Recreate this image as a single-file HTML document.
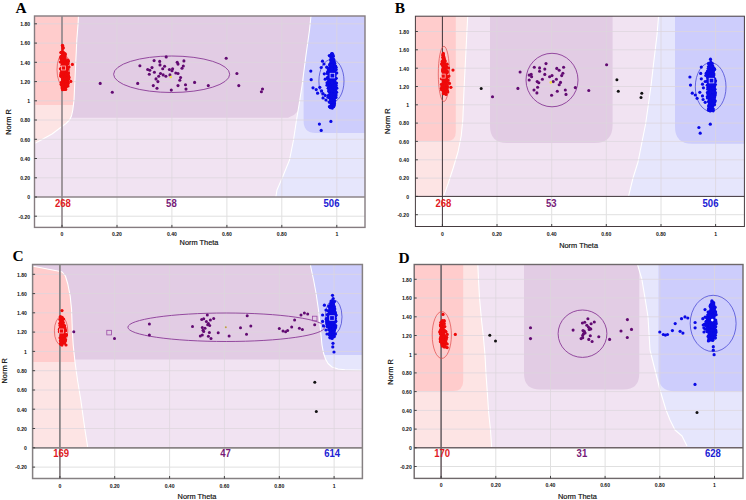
<!DOCTYPE html>
<html><head><meta charset="utf-8"><style>
html,body{margin:0;padding:0;background:#fff;width:746px;height:500px;overflow:hidden}
svg{display:block}
.tl{font-family:"Liberation Sans",sans-serif;font-size:5.1px;font-weight:bold;fill:#111}
.at{font-family:"Liberation Sans",sans-serif;font-size:7.4px;fill:#111;stroke:#111;stroke-width:0.18px}
.let{font-family:"Liberation Serif",serif;font-size:15.4px;font-weight:bold;fill:#000}
.cnt{font-family:"Liberation Sans",sans-serif;font-size:10.4px;font-weight:bold}
</style></head><body>
<svg width="746" height="500" viewBox="0 0 746 500">
<clipPath id="clipA"><rect x="34.5" y="16" width="330.5" height="181"/></clipPath>
<g clip-path="url(#clipA)">
<rect x="29.5" y="11" width="340.5" height="191" fill="#f1e3f2"/>
<polygon points="29.5,11.0 313.0,11.0 311.0,30.0 307.5,55.0 303.5,86.0 302.0,98.0 300.5,105.0 298.0,111.0 294.0,115.0 288.0,117.7 29.5,117.7" fill="#e2cce4" />
<clipPath id="pkA"><polygon points="29.5,11.0 78.6,11.0 78.2,22.0 76.8,40.0 75.4,70.0 74.0,100.0 72.8,110.0 71.5,116.0 69.5,120.0 66.0,123.5 60.0,128.0 52.0,134.0 43.0,139.0 36.0,142.7 29.5,144.0"/></clipPath>
<polygon points="29.5,11.0 78.6,11.0 78.2,22.0 76.8,40.0 75.4,70.0 74.0,100.0 72.8,110.0 71.5,116.0 69.5,120.0 66.0,123.5 60.0,128.0 52.0,134.0 43.0,139.0 36.0,142.7 29.5,144.0" fill="#fde4e4" />
<g clip-path="url(#pkA)"><path d="M29.5,11 L90,11 L90,105 Q90,105 90,105 L29.5,105 Q29.5,105 29.5,105 Z" fill="#ffcccc" /></g>
<clipPath id="blA"><polygon points="311.5,11.0 370.0,11.0 370.0,202.0 275.0,202.0 277.0,190.0 283.0,176.0 289.5,160.0 293.5,140.0 296.5,120.0 299.0,105.0 302.0,86.0 306.0,55.0 309.5,30.0"/></clipPath>
<polygon points="311.5,11.0 370.0,11.0 370.0,202.0 275.0,202.0 277.0,190.0 283.0,176.0 289.5,160.0 293.5,140.0 296.5,120.0 299.0,105.0 302.0,86.0 306.0,55.0 309.5,30.0" fill="#e6e6fc" />
<g clip-path="url(#blA)"><path d="M303.6,11 L370,11 L370,133 Q370,133 370,133 L315.6,133 Q303.6,133 303.6,121 Z" fill="#cdcdfc" /></g>
<polyline points="78.6,11.0 78.2,22.0 76.8,40.0 75.4,70.0 74.0,100.0 72.8,110.0 71.5,116.0 69.5,120.0 66.0,123.5 60.0,128.0 52.0,134.0 43.0,139.0 36.0,142.7 29.5,144.0" fill="none" stroke="#fff" stroke-width="1.1" stroke-linejoin="round" />
<polyline points="275.0,202.0 277.0,190.0 283.0,176.0 289.5,160.0 293.5,140.0 296.5,120.0 299.0,105.0 302.0,86.0 306.0,55.0 309.5,30.0 311.5,11.0" fill="none" stroke="#fff" stroke-width="1.1" stroke-linejoin="round" />
</g>
<path d="M34.5,177.8H365 M34.5,158.5H365 M34.5,139.3H365 M34.5,120.0H365 M34.5,100.8H365 M34.5,81.6H365 M34.5,62.3H365 M34.5,43.1H365 M34.5,23.8H365 M117.0,16V197 M171.9,16V197 M226.9,16V197 M281.8,16V197 M336.8,16V197" stroke="#dcd6dc" stroke-width="1" fill="none" opacity="0.75"/>
<path d="M34.5,216.2H365 M117.0,197V227.4 M171.9,197V227.4 M226.9,197V227.4 M281.8,197V227.4 M336.8,197V227.4" stroke="#e0e0e0" stroke-width="1" fill="none"/>
<rect x="34.5" y="16" width="330.5" height="211.4" fill="none" stroke="#857c80" stroke-width="1.4"/>
<path d="M34.5,197H365" stroke="#8c8488" stroke-width="1.6"/>
<path d="M62,16V227.4" stroke="#8c8488" stroke-width="1.6"/>
<path d="M34.5,216.2H37.0 M34.5,197.0H37.0 M34.5,177.8H37.0 M34.5,158.5H37.0 M34.5,139.3H37.0 M34.5,120.0H37.0 M34.5,100.8H37.0 M34.5,81.6H37.0 M34.5,62.3H37.0 M34.5,43.1H37.0 M34.5,23.8H37.0 M62.0,224.9V227.4 M117.0,224.9V227.4 M171.9,224.9V227.4 M226.9,224.9V227.4 M281.8,224.9V227.4 M336.8,224.9V227.4" stroke="#333" stroke-width="0.9"/>
<text x="30.1" y="218.5" class="tl" text-anchor="end">-0.20</text>
<text x="30.1" y="199.3" class="tl" text-anchor="end">0</text>
<text x="30.1" y="180.1" class="tl" text-anchor="end">0.20</text>
<text x="30.1" y="160.8" class="tl" text-anchor="end">0.40</text>
<text x="30.1" y="141.6" class="tl" text-anchor="end">0.60</text>
<text x="30.1" y="122.3" class="tl" text-anchor="end">0.80</text>
<text x="30.1" y="103.1" class="tl" text-anchor="end">1</text>
<text x="30.1" y="83.9" class="tl" text-anchor="end">1.20</text>
<text x="30.1" y="64.6" class="tl" text-anchor="end">1.40</text>
<text x="30.1" y="45.4" class="tl" text-anchor="end">1.60</text>
<text x="30.1" y="26.1" class="tl" text-anchor="end">1.80</text>
<text x="62.0" y="235.7" class="tl" text-anchor="middle">0</text>
<text x="117.0" y="235.7" class="tl" text-anchor="middle">0.20</text>
<text x="171.9" y="235.7" class="tl" text-anchor="middle">0.40</text>
<text x="226.9" y="235.7" class="tl" text-anchor="middle">0.60</text>
<text x="281.8" y="235.7" class="tl" text-anchor="middle">0.80</text>
<text x="336.8" y="235.7" class="tl" text-anchor="middle">1</text>
<text x="8" y="122" class="at" text-anchor="middle" transform="rotate(-90 8 122)" dy="2.6">Norm R</text>
<text x="199" y="244.8" class="at" text-anchor="middle">Norm Theta</text>
<text x="15.4" y="12.6" class="let">A</text>
<ellipse cx="171.64999999999998" cy="74.25" rx="58.05" ry="18.25" fill="none" stroke="#8a3a96" stroke-width="0.9"/>
<ellipse cx="63.3" cy="69.69999999999999" rx="6.299999999999997" ry="15.899999999999999" fill="none" stroke="#e04848" stroke-width="0.7"/>
<ellipse cx="331.45" cy="81.0" rx="12.550000000000011" ry="21.599999999999998" fill="none" stroke="#3a3ad0" stroke-width="0.7"/>
<circle cx="100.2" cy="83.4" r="1.55" fill="#620a72"/>
<circle cx="112.3" cy="92.3" r="1.55" fill="#620a72"/>
<circle cx="139.9" cy="65.7" r="1.55" fill="#620a72"/>
<circle cx="137.7" cy="83.4" r="1.55" fill="#620a72"/>
<circle cx="154.1" cy="60.6" r="1.55" fill="#620a72"/>
<circle cx="159.7" cy="61.4" r="1.55" fill="#620a72"/>
<circle cx="160.0" cy="64.9" r="1.55" fill="#620a72"/>
<circle cx="166.2" cy="56.9" r="1.55" fill="#620a72"/>
<circle cx="177.2" cy="62.3" r="1.55" fill="#620a72"/>
<circle cx="178.0" cy="64.1" r="1.55" fill="#620a72"/>
<circle cx="183.9" cy="60.9" r="1.55" fill="#620a72"/>
<circle cx="182.0" cy="68.2" r="1.55" fill="#620a72"/>
<circle cx="183.3" cy="66.0" r="1.55" fill="#620a72"/>
<circle cx="147.7" cy="69.5" r="1.55" fill="#620a72"/>
<circle cx="149.8" cy="70.3" r="1.55" fill="#620a72"/>
<circle cx="152.0" cy="67.6" r="1.55" fill="#620a72"/>
<circle cx="149.3" cy="74.3" r="1.55" fill="#620a72"/>
<circle cx="154.4" cy="72.2" r="1.55" fill="#620a72"/>
<circle cx="162.7" cy="68.7" r="1.55" fill="#620a72"/>
<circle cx="164.6" cy="66.3" r="1.55" fill="#620a72"/>
<circle cx="169.4" cy="69.5" r="1.55" fill="#620a72"/>
<circle cx="172.6" cy="68.7" r="1.55" fill="#620a72"/>
<circle cx="172.0" cy="70.8" r="1.55" fill="#620a72"/>
<circle cx="175.8" cy="73.0" r="1.55" fill="#620a72"/>
<circle cx="178.0" cy="73.5" r="1.55" fill="#620a72"/>
<circle cx="160.5" cy="73.5" r="1.55" fill="#620a72"/>
<circle cx="158.7" cy="76.2" r="1.55" fill="#620a72"/>
<circle cx="163.2" cy="74.9" r="1.55" fill="#620a72"/>
<circle cx="165.9" cy="76.2" r="1.55" fill="#620a72"/>
<circle cx="156.0" cy="78.9" r="1.55" fill="#620a72"/>
<circle cx="157.9" cy="81.6" r="1.55" fill="#620a72"/>
<circle cx="169.9" cy="74.9" r="1.55" fill="#620a72"/>
<circle cx="180.6" cy="77.5" r="1.55" fill="#620a72"/>
<circle cx="179.8" cy="80.2" r="1.55" fill="#620a72"/>
<circle cx="153.3" cy="85.6" r="1.55" fill="#620a72"/>
<circle cx="157.0" cy="88.3" r="1.55" fill="#620a72"/>
<circle cx="171.3" cy="90.1" r="1.55" fill="#620a72"/>
<circle cx="178.0" cy="85.6" r="1.55" fill="#620a72"/>
<circle cx="185.5" cy="84.8" r="1.55" fill="#620a72"/>
<circle cx="186.0" cy="89.1" r="1.55" fill="#620a72"/>
<circle cx="194.6" cy="82.4" r="1.55" fill="#620a72"/>
<circle cx="208.3" cy="85.6" r="1.55" fill="#620a72"/>
<circle cx="226.2" cy="58.2" r="1.55" fill="#620a72"/>
<circle cx="236.9" cy="73.5" r="1.55" fill="#620a72"/>
<circle cx="238.8" cy="85.6" r="1.55" fill="#620a72"/>
<circle cx="262.5" cy="89.0" r="1.55" fill="#620a72"/>
<circle cx="261.4" cy="91.7" r="1.55" fill="#620a72"/>
<circle cx="170.7" cy="77.0" r="1.3" fill="#f0e040"/>
<polygon points="61.6,45.9 63.1,46.4 64.0,51.9 66.3,55.9 67.1,60.8 67.2,66.4 67.0,71.3 68.2,77.2 68.7,81.1 66.9,85.1 65.0,88.1 62.1,88.1 61.2,83.1 60.9,74.2 61.0,65.5 60.8,57.8 61.2,50.9" fill="#ee0a0a"/>
<circle cx="61.4" cy="82.3" r="1.6" fill="#ee0a0a"/>
<circle cx="64.6" cy="64.8" r="1.6" fill="#ee0a0a"/>
<circle cx="65.9" cy="79.7" r="1.6" fill="#ee0a0a"/>
<circle cx="67.6" cy="64.0" r="1.6" fill="#ee0a0a"/>
<circle cx="64.1" cy="76.7" r="1.6" fill="#ee0a0a"/>
<circle cx="62.2" cy="86.6" r="1.6" fill="#ee0a0a"/>
<circle cx="60.4" cy="68.8" r="1.6" fill="#ee0a0a"/>
<circle cx="62.1" cy="63.6" r="1.6" fill="#ee0a0a"/>
<circle cx="64.1" cy="66.8" r="1.6" fill="#ee0a0a"/>
<circle cx="62.3" cy="55.2" r="1.6" fill="#ee0a0a"/>
<circle cx="62.1" cy="65.2" r="1.6" fill="#ee0a0a"/>
<circle cx="62.8" cy="45.9" r="1.6" fill="#ee0a0a"/>
<circle cx="67.6" cy="69.5" r="1.6" fill="#ee0a0a"/>
<circle cx="61.3" cy="59.6" r="1.6" fill="#ee0a0a"/>
<circle cx="66.5" cy="76.3" r="1.6" fill="#ee0a0a"/>
<circle cx="67.5" cy="74.5" r="1.6" fill="#ee0a0a"/>
<circle cx="62.9" cy="70.9" r="1.6" fill="#ee0a0a"/>
<circle cx="68.0" cy="82.2" r="1.6" fill="#ee0a0a"/>
<circle cx="64.6" cy="70.9" r="1.6" fill="#ee0a0a"/>
<circle cx="67.2" cy="63.2" r="1.6" fill="#ee0a0a"/>
<circle cx="61.7" cy="69.1" r="1.6" fill="#ee0a0a"/>
<circle cx="66.4" cy="74.7" r="1.6" fill="#ee0a0a"/>
<circle cx="63.5" cy="64.3" r="1.6" fill="#ee0a0a"/>
<circle cx="64.7" cy="79.3" r="1.6" fill="#ee0a0a"/>
<circle cx="64.8" cy="62.3" r="1.6" fill="#ee0a0a"/>
<circle cx="60.6" cy="75.9" r="1.6" fill="#ee0a0a"/>
<circle cx="63.7" cy="52.5" r="1.6" fill="#ee0a0a"/>
<circle cx="64.6" cy="88.2" r="1.6" fill="#ee0a0a"/>
<circle cx="67.0" cy="68.7" r="1.6" fill="#ee0a0a"/>
<circle cx="64.7" cy="86.9" r="1.6" fill="#ee0a0a"/>
<circle cx="65.3" cy="65.2" r="1.6" fill="#ee0a0a"/>
<circle cx="62.6" cy="69.1" r="1.6" fill="#ee0a0a"/>
<circle cx="67.1" cy="81.1" r="1.6" fill="#ee0a0a"/>
<circle cx="68.0" cy="77.6" r="1.6" fill="#ee0a0a"/>
<circle cx="67.3" cy="67.8" r="1.6" fill="#ee0a0a"/>
<circle cx="65.1" cy="63.7" r="1.6" fill="#ee0a0a"/>
<circle cx="65.2" cy="53.8" r="1.6" fill="#ee0a0a"/>
<circle cx="64.6" cy="66.3" r="1.6" fill="#ee0a0a"/>
<circle cx="63.3" cy="60.2" r="1.6" fill="#ee0a0a"/>
<circle cx="64.9" cy="72.4" r="1.6" fill="#ee0a0a"/>
<circle cx="65.6" cy="65.2" r="1.6" fill="#ee0a0a"/>
<circle cx="61.8" cy="70.7" r="1.6" fill="#ee0a0a"/>
<circle cx="67.8" cy="80.1" r="1.6" fill="#ee0a0a"/>
<circle cx="67.2" cy="80.9" r="1.6" fill="#ee0a0a"/>
<circle cx="62.4" cy="82.0" r="1.6" fill="#ee0a0a"/>
<circle cx="61.2" cy="72.5" r="1.6" fill="#ee0a0a"/>
<circle cx="63.2" cy="48.1" r="1.6" fill="#ee0a0a"/>
<circle cx="61.6" cy="68.2" r="1.6" fill="#ee0a0a"/>
<circle cx="61.7" cy="57.0" r="1.6" fill="#ee0a0a"/>
<circle cx="66.5" cy="65.0" r="1.6" fill="#ee0a0a"/>
<circle cx="63.0" cy="65.8" r="1.6" fill="#ee0a0a"/>
<circle cx="60.4" cy="62.0" r="1.6" fill="#ee0a0a"/>
<circle cx="63.9" cy="53.3" r="1.6" fill="#ee0a0a"/>
<circle cx="61.2" cy="84.6" r="1.6" fill="#ee0a0a"/>
<circle cx="64.7" cy="54.2" r="1.6" fill="#ee0a0a"/>
<circle cx="65.5" cy="80.9" r="1.6" fill="#ee0a0a"/>
<circle cx="61.5" cy="76.6" r="1.6" fill="#ee0a0a"/>
<circle cx="61.6" cy="76.0" r="1.6" fill="#ee0a0a"/>
<circle cx="66.2" cy="69.0" r="1.6" fill="#ee0a0a"/>
<circle cx="62.1" cy="87.9" r="1.6" fill="#ee0a0a"/>
<circle cx="67.2" cy="67.7" r="1.6" fill="#ee0a0a"/>
<circle cx="62.2" cy="73.5" r="1.6" fill="#ee0a0a"/>
<circle cx="63.7" cy="70.3" r="1.6" fill="#ee0a0a"/>
<circle cx="63.0" cy="72.8" r="1.6" fill="#ee0a0a"/>
<circle cx="60.7" cy="58.1" r="1.6" fill="#ee0a0a"/>
<circle cx="62.9" cy="82.8" r="1.6" fill="#ee0a0a"/>
<circle cx="62.9" cy="86.3" r="1.6" fill="#ee0a0a"/>
<circle cx="66.7" cy="63.3" r="1.6" fill="#ee0a0a"/>
<circle cx="62.4" cy="45.4" r="1.6" fill="#ee0a0a"/>
<circle cx="66.4" cy="67.4" r="1.6" fill="#ee0a0a"/>
<circle cx="63.5" cy="60.3" r="1.6" fill="#ee0a0a"/>
<circle cx="62.0" cy="74.7" r="1.6" fill="#ee0a0a"/>
<circle cx="64.0" cy="53.5" r="1.6" fill="#ee0a0a"/>
<circle cx="61.1" cy="74.3" r="1.6" fill="#ee0a0a"/>
<circle cx="62.8" cy="67.0" r="1.6" fill="#ee0a0a"/>
<circle cx="63.1" cy="83.4" r="1.6" fill="#ee0a0a"/>
<circle cx="62.0" cy="59.4" r="1.6" fill="#ee0a0a"/>
<circle cx="63.2" cy="54.4" r="1.6" fill="#ee0a0a"/>
<circle cx="66.1" cy="81.9" r="1.6" fill="#ee0a0a"/>
<circle cx="68.0" cy="75.2" r="1.6" fill="#ee0a0a"/>
<circle cx="64.5" cy="88.4" r="1.6" fill="#ee0a0a"/>
<circle cx="62.3" cy="76.9" r="1.6" fill="#ee0a0a"/>
<circle cx="60.9" cy="52.5" r="1.6" fill="#ee0a0a"/>
<circle cx="66.9" cy="71.4" r="1.6" fill="#ee0a0a"/>
<circle cx="63.2" cy="57.8" r="1.6" fill="#ee0a0a"/>
<circle cx="61.4" cy="69.3" r="1.6" fill="#ee0a0a"/>
<circle cx="67.1" cy="81.5" r="1.6" fill="#ee0a0a"/>
<circle cx="63.2" cy="72.1" r="1.6" fill="#ee0a0a"/>
<circle cx="67.1" cy="61.6" r="1.6" fill="#ee0a0a"/>
<circle cx="65.2" cy="54.8" r="1.6" fill="#ee0a0a"/>
<circle cx="60.9" cy="56.7" r="1.6" fill="#ee0a0a"/>
<circle cx="62.6" cy="79.6" r="1.6" fill="#ee0a0a"/>
<circle cx="61.2" cy="83.9" r="1.6" fill="#ee0a0a"/>
<circle cx="61.2" cy="52.4" r="1.6" fill="#ee0a0a"/>
<circle cx="62.3" cy="77.7" r="1.6" fill="#ee0a0a"/>
<circle cx="63.5" cy="87.7" r="1.6" fill="#ee0a0a"/>
<circle cx="62.4" cy="66.0" r="1.6" fill="#ee0a0a"/>
<circle cx="61.1" cy="73.7" r="1.6" fill="#ee0a0a"/>
<circle cx="65.4" cy="64.8" r="1.6" fill="#ee0a0a"/>
<circle cx="63.0" cy="47.8" r="1.6" fill="#ee0a0a"/>
<circle cx="62.1" cy="72.2" r="1.6" fill="#ee0a0a"/>
<circle cx="66.3" cy="74.1" r="1.6" fill="#ee0a0a"/>
<circle cx="62.5" cy="68.8" r="1.6" fill="#ee0a0a"/>
<circle cx="68.0" cy="86.0" r="1.6" fill="#ee0a0a"/>
<circle cx="68.2" cy="83.4" r="1.6" fill="#ee0a0a"/>
<circle cx="66.3" cy="86.8" r="1.6" fill="#ee0a0a"/>
<circle cx="67.6" cy="83.8" r="1.6" fill="#ee0a0a"/>
<circle cx="63.0" cy="88.1" r="1.6" fill="#ee0a0a"/>
<circle cx="63.0" cy="57.1" r="1.6" fill="#ee0a0a"/>
<circle cx="65.9" cy="86.9" r="1.6" fill="#ee0a0a"/>
<circle cx="64.8" cy="88.9" r="1.6" fill="#ee0a0a"/>
<circle cx="68.0" cy="63.1" r="1.6" fill="#ee0a0a"/>
<circle cx="62.4" cy="85.1" r="1.6" fill="#ee0a0a"/>
<circle cx="65.7" cy="89.4" r="1.6" fill="#ee0a0a"/>
<circle cx="68.3" cy="75.6" r="1.6" fill="#ee0a0a"/>
<circle cx="62.5" cy="89.7" r="1.6" fill="#ee0a0a"/>
<circle cx="67.6" cy="78.6" r="1.6" fill="#ee0a0a"/>
<circle cx="68.4" cy="61.2" r="1.6" fill="#ee0a0a"/>
<circle cx="68.8" cy="79.1" r="1.6" fill="#ee0a0a"/>
<circle cx="72.4" cy="64.4" r="1.6" fill="#ee0a0a"/>
<circle cx="64.2" cy="89.5" r="1.6" fill="#ee0a0a"/>
<circle cx="66.0" cy="84.4" r="1.6" fill="#ee0a0a"/>
<circle cx="70.8" cy="81.4" r="1.6" fill="#ee0a0a"/>
<circle cx="69.0" cy="77.2" r="1.6" fill="#ee0a0a"/>
<circle cx="68.0" cy="60.0" r="1.6" fill="#ee0a0a"/>
<circle cx="69.0" cy="67.0" r="1.6" fill="#ee0a0a"/>
<circle cx="68.5" cy="73.0" r="1.6" fill="#ee0a0a"/>
<polygon points="331.0,52.9 332.5,53.4 333.9,58.9 335.8,64.9 336.3,75.6 336.6,89.2 335.8,99.1 333.9,106.1 332.0,108.1 330.5,106.1 329.1,99.1 328.3,89.2 328.4,78.2 328.3,68.8 329.6,60.9 330.6,55.9" fill="#0a0ae6"/>
<circle cx="335.4" cy="94.0" r="1.6" fill="#0a0ae6"/>
<circle cx="333.9" cy="69.6" r="1.6" fill="#0a0ae6"/>
<circle cx="333.3" cy="86.6" r="1.6" fill="#0a0ae6"/>
<circle cx="333.0" cy="61.0" r="1.6" fill="#0a0ae6"/>
<circle cx="331.6" cy="74.4" r="1.6" fill="#0a0ae6"/>
<circle cx="336.5" cy="83.0" r="1.6" fill="#0a0ae6"/>
<circle cx="331.7" cy="67.3" r="1.6" fill="#0a0ae6"/>
<circle cx="331.9" cy="70.2" r="1.6" fill="#0a0ae6"/>
<circle cx="331.1" cy="102.8" r="1.6" fill="#0a0ae6"/>
<circle cx="332.5" cy="83.9" r="1.6" fill="#0a0ae6"/>
<circle cx="330.6" cy="59.8" r="1.6" fill="#0a0ae6"/>
<circle cx="333.9" cy="62.4" r="1.6" fill="#0a0ae6"/>
<circle cx="336.0" cy="97.4" r="1.6" fill="#0a0ae6"/>
<circle cx="334.5" cy="103.7" r="1.6" fill="#0a0ae6"/>
<circle cx="334.7" cy="97.0" r="1.6" fill="#0a0ae6"/>
<circle cx="334.7" cy="92.8" r="1.6" fill="#0a0ae6"/>
<circle cx="331.9" cy="82.2" r="1.6" fill="#0a0ae6"/>
<circle cx="332.2" cy="104.7" r="1.6" fill="#0a0ae6"/>
<circle cx="332.3" cy="99.4" r="1.6" fill="#0a0ae6"/>
<circle cx="330.9" cy="102.3" r="1.6" fill="#0a0ae6"/>
<circle cx="336.0" cy="78.3" r="1.6" fill="#0a0ae6"/>
<circle cx="332.9" cy="104.5" r="1.6" fill="#0a0ae6"/>
<circle cx="334.4" cy="79.7" r="1.6" fill="#0a0ae6"/>
<circle cx="329.6" cy="70.5" r="1.6" fill="#0a0ae6"/>
<circle cx="334.1" cy="61.5" r="1.6" fill="#0a0ae6"/>
<circle cx="336.1" cy="67.3" r="1.6" fill="#0a0ae6"/>
<circle cx="336.2" cy="69.6" r="1.6" fill="#0a0ae6"/>
<circle cx="336.6" cy="92.3" r="1.6" fill="#0a0ae6"/>
<circle cx="332.3" cy="81.5" r="1.6" fill="#0a0ae6"/>
<circle cx="333.7" cy="85.5" r="1.6" fill="#0a0ae6"/>
<circle cx="330.5" cy="63.8" r="1.6" fill="#0a0ae6"/>
<circle cx="332.4" cy="105.2" r="1.6" fill="#0a0ae6"/>
<circle cx="333.4" cy="56.3" r="1.6" fill="#0a0ae6"/>
<circle cx="335.3" cy="93.4" r="1.6" fill="#0a0ae6"/>
<circle cx="333.7" cy="67.6" r="1.6" fill="#0a0ae6"/>
<circle cx="329.7" cy="101.9" r="1.6" fill="#0a0ae6"/>
<circle cx="328.5" cy="81.8" r="1.6" fill="#0a0ae6"/>
<circle cx="335.6" cy="66.0" r="1.6" fill="#0a0ae6"/>
<circle cx="329.5" cy="102.2" r="1.6" fill="#0a0ae6"/>
<circle cx="331.5" cy="92.9" r="1.6" fill="#0a0ae6"/>
<circle cx="327.8" cy="72.7" r="1.6" fill="#0a0ae6"/>
<circle cx="329.1" cy="90.3" r="1.6" fill="#0a0ae6"/>
<circle cx="329.2" cy="91.4" r="1.6" fill="#0a0ae6"/>
<circle cx="331.2" cy="54.5" r="1.6" fill="#0a0ae6"/>
<circle cx="327.8" cy="71.6" r="1.6" fill="#0a0ae6"/>
<circle cx="333.3" cy="94.3" r="1.6" fill="#0a0ae6"/>
<circle cx="328.6" cy="71.2" r="1.6" fill="#0a0ae6"/>
<circle cx="327.8" cy="77.6" r="1.6" fill="#0a0ae6"/>
<circle cx="334.8" cy="94.2" r="1.6" fill="#0a0ae6"/>
<circle cx="336.1" cy="95.1" r="1.6" fill="#0a0ae6"/>
<circle cx="335.7" cy="92.2" r="1.6" fill="#0a0ae6"/>
<circle cx="332.0" cy="64.9" r="1.6" fill="#0a0ae6"/>
<circle cx="333.8" cy="70.0" r="1.6" fill="#0a0ae6"/>
<circle cx="328.5" cy="77.5" r="1.6" fill="#0a0ae6"/>
<circle cx="333.1" cy="74.4" r="1.6" fill="#0a0ae6"/>
<circle cx="332.4" cy="60.2" r="1.6" fill="#0a0ae6"/>
<circle cx="333.3" cy="75.9" r="1.6" fill="#0a0ae6"/>
<circle cx="328.4" cy="88.2" r="1.6" fill="#0a0ae6"/>
<circle cx="332.3" cy="108.1" r="1.6" fill="#0a0ae6"/>
<circle cx="329.7" cy="77.3" r="1.6" fill="#0a0ae6"/>
<circle cx="329.9" cy="85.7" r="1.6" fill="#0a0ae6"/>
<circle cx="333.4" cy="97.6" r="1.6" fill="#0a0ae6"/>
<circle cx="334.2" cy="66.6" r="1.6" fill="#0a0ae6"/>
<circle cx="331.5" cy="82.0" r="1.6" fill="#0a0ae6"/>
<circle cx="331.4" cy="58.3" r="1.6" fill="#0a0ae6"/>
<circle cx="334.4" cy="65.7" r="1.6" fill="#0a0ae6"/>
<circle cx="329.7" cy="64.4" r="1.6" fill="#0a0ae6"/>
<circle cx="332.4" cy="78.5" r="1.6" fill="#0a0ae6"/>
<circle cx="330.4" cy="88.6" r="1.6" fill="#0a0ae6"/>
<circle cx="331.6" cy="81.2" r="1.6" fill="#0a0ae6"/>
<circle cx="333.0" cy="54.9" r="1.6" fill="#0a0ae6"/>
<circle cx="331.5" cy="81.9" r="1.6" fill="#0a0ae6"/>
<circle cx="335.1" cy="72.9" r="1.6" fill="#0a0ae6"/>
<circle cx="332.4" cy="104.5" r="1.6" fill="#0a0ae6"/>
<circle cx="333.3" cy="68.5" r="1.6" fill="#0a0ae6"/>
<circle cx="328.5" cy="69.4" r="1.6" fill="#0a0ae6"/>
<circle cx="335.5" cy="90.3" r="1.6" fill="#0a0ae6"/>
<circle cx="327.6" cy="77.7" r="1.6" fill="#0a0ae6"/>
<circle cx="331.4" cy="79.7" r="1.6" fill="#0a0ae6"/>
<circle cx="329.5" cy="85.6" r="1.6" fill="#0a0ae6"/>
<circle cx="328.2" cy="68.2" r="1.6" fill="#0a0ae6"/>
<circle cx="331.0" cy="105.3" r="1.6" fill="#0a0ae6"/>
<circle cx="329.3" cy="84.6" r="1.6" fill="#0a0ae6"/>
<circle cx="331.2" cy="78.4" r="1.6" fill="#0a0ae6"/>
<circle cx="334.7" cy="74.5" r="1.6" fill="#0a0ae6"/>
<circle cx="333.6" cy="106.7" r="1.6" fill="#0a0ae6"/>
<circle cx="333.8" cy="96.3" r="1.6" fill="#0a0ae6"/>
<circle cx="334.4" cy="80.4" r="1.6" fill="#0a0ae6"/>
<circle cx="330.9" cy="78.1" r="1.6" fill="#0a0ae6"/>
<circle cx="335.1" cy="67.3" r="1.6" fill="#0a0ae6"/>
<circle cx="332.5" cy="79.2" r="1.6" fill="#0a0ae6"/>
<circle cx="330.3" cy="65.2" r="1.6" fill="#0a0ae6"/>
<circle cx="332.1" cy="66.8" r="1.6" fill="#0a0ae6"/>
<circle cx="331.6" cy="90.7" r="1.6" fill="#0a0ae6"/>
<circle cx="336.2" cy="85.4" r="1.6" fill="#0a0ae6"/>
<circle cx="328.9" cy="75.8" r="1.6" fill="#0a0ae6"/>
<circle cx="333.7" cy="59.3" r="1.6" fill="#0a0ae6"/>
<circle cx="330.3" cy="65.2" r="1.6" fill="#0a0ae6"/>
<circle cx="333.9" cy="90.8" r="1.6" fill="#0a0ae6"/>
<circle cx="331.7" cy="81.9" r="1.6" fill="#0a0ae6"/>
<circle cx="328.6" cy="82.8" r="1.6" fill="#0a0ae6"/>
<circle cx="328.4" cy="81.4" r="1.6" fill="#0a0ae6"/>
<circle cx="334.3" cy="66.7" r="1.6" fill="#0a0ae6"/>
<circle cx="336.0" cy="78.3" r="1.6" fill="#0a0ae6"/>
<circle cx="334.2" cy="75.0" r="1.6" fill="#0a0ae6"/>
<circle cx="332.9" cy="60.3" r="1.6" fill="#0a0ae6"/>
<circle cx="331.7" cy="53.7" r="1.6" fill="#0a0ae6"/>
<circle cx="333.2" cy="102.3" r="1.6" fill="#0a0ae6"/>
<circle cx="329.2" cy="81.1" r="1.6" fill="#0a0ae6"/>
<circle cx="332.1" cy="75.1" r="1.6" fill="#0a0ae6"/>
<circle cx="334.2" cy="105.4" r="1.6" fill="#0a0ae6"/>
<circle cx="334.2" cy="78.9" r="1.6" fill="#0a0ae6"/>
<circle cx="334.6" cy="89.5" r="1.6" fill="#0a0ae6"/>
<circle cx="334.7" cy="100.6" r="1.6" fill="#0a0ae6"/>
<circle cx="329.6" cy="87.4" r="1.6" fill="#0a0ae6"/>
<circle cx="331.3" cy="90.0" r="1.6" fill="#0a0ae6"/>
<circle cx="336.8" cy="88.2" r="1.6" fill="#0a0ae6"/>
<circle cx="327.6" cy="78.5" r="1.6" fill="#0a0ae6"/>
<circle cx="334.3" cy="102.3" r="1.6" fill="#0a0ae6"/>
<circle cx="333.7" cy="98.5" r="1.6" fill="#0a0ae6"/>
<circle cx="334.4" cy="86.6" r="1.6" fill="#0a0ae6"/>
<circle cx="334.8" cy="63.4" r="1.6" fill="#0a0ae6"/>
<circle cx="334.6" cy="85.4" r="1.6" fill="#0a0ae6"/>
<circle cx="329.3" cy="97.8" r="1.6" fill="#0a0ae6"/>
<circle cx="328.8" cy="86.9" r="1.6" fill="#0a0ae6"/>
<circle cx="331.6" cy="66.5" r="1.6" fill="#0a0ae6"/>
<circle cx="332.9" cy="78.6" r="1.6" fill="#0a0ae6"/>
<circle cx="332.1" cy="99.7" r="1.6" fill="#0a0ae6"/>
<circle cx="333.8" cy="95.0" r="1.6" fill="#0a0ae6"/>
<circle cx="332.1" cy="90.5" r="1.6" fill="#0a0ae6"/>
<circle cx="330.7" cy="67.2" r="1.6" fill="#0a0ae6"/>
<circle cx="332.3" cy="53.6" r="1.6" fill="#0a0ae6"/>
<circle cx="329.2" cy="94.8" r="1.6" fill="#0a0ae6"/>
<circle cx="335.0" cy="75.1" r="1.6" fill="#0a0ae6"/>
<circle cx="333.9" cy="96.9" r="1.6" fill="#0a0ae6"/>
<circle cx="329.0" cy="73.8" r="1.6" fill="#0a0ae6"/>
<circle cx="331.9" cy="68.8" r="1.6" fill="#0a0ae6"/>
<circle cx="336.7" cy="72.9" r="1.6" fill="#0a0ae6"/>
<circle cx="332.6" cy="73.8" r="1.6" fill="#0a0ae6"/>
<circle cx="331.7" cy="101.6" r="1.6" fill="#0a0ae6"/>
<circle cx="330.4" cy="89.0" r="1.6" fill="#0a0ae6"/>
<circle cx="332.1" cy="82.7" r="1.6" fill="#0a0ae6"/>
<circle cx="335.3" cy="69.3" r="1.6" fill="#0a0ae6"/>
<circle cx="333.6" cy="97.4" r="1.6" fill="#0a0ae6"/>
<circle cx="333.7" cy="74.4" r="1.6" fill="#0a0ae6"/>
<circle cx="333.5" cy="74.3" r="1.6" fill="#0a0ae6"/>
<circle cx="332.5" cy="100.5" r="1.6" fill="#0a0ae6"/>
<circle cx="335.1" cy="87.8" r="1.6" fill="#0a0ae6"/>
<circle cx="330.4" cy="65.3" r="1.6" fill="#0a0ae6"/>
<circle cx="331.8" cy="65.2" r="1.6" fill="#0a0ae6"/>
<circle cx="331.1" cy="72.8" r="1.6" fill="#0a0ae6"/>
<circle cx="330.5" cy="56.4" r="1.6" fill="#0a0ae6"/>
<circle cx="331.8" cy="61.5" r="1.6" fill="#0a0ae6"/>
<circle cx="331.7" cy="68.6" r="1.6" fill="#0a0ae6"/>
<circle cx="327.2" cy="73.4" r="1.6" fill="#0a0ae6"/>
<circle cx="329.3" cy="55.6" r="1.6" fill="#0a0ae6"/>
<circle cx="330.4" cy="106.9" r="1.6" fill="#0a0ae6"/>
<circle cx="327.0" cy="85.2" r="1.6" fill="#0a0ae6"/>
<circle cx="328.3" cy="95.5" r="1.6" fill="#0a0ae6"/>
<circle cx="328.9" cy="91.2" r="1.6" fill="#0a0ae6"/>
<circle cx="326.7" cy="67.2" r="1.6" fill="#0a0ae6"/>
<circle cx="329.5" cy="106.6" r="1.6" fill="#0a0ae6"/>
<circle cx="330.4" cy="106.9" r="1.6" fill="#0a0ae6"/>
<circle cx="329.6" cy="106.8" r="1.6" fill="#0a0ae6"/>
<circle cx="330.8" cy="107.7" r="1.6" fill="#0a0ae6"/>
<circle cx="330.8" cy="99.7" r="1.6" fill="#0a0ae6"/>
<circle cx="328.0" cy="97.2" r="1.6" fill="#0a0ae6"/>
<circle cx="328.3" cy="88.2" r="1.6" fill="#0a0ae6"/>
<circle cx="322.5" cy="61.2" r="1.6" fill="#0a0ae6"/>
<circle cx="321.2" cy="67.5" r="1.6" fill="#0a0ae6"/>
<circle cx="310.8" cy="71.1" r="1.6" fill="#0a0ae6"/>
<circle cx="311.2" cy="79.7" r="1.6" fill="#0a0ae6"/>
<circle cx="313.0" cy="87.8" r="1.6" fill="#0a0ae6"/>
<circle cx="316.2" cy="89.6" r="1.6" fill="#0a0ae6"/>
<circle cx="317.6" cy="93.2" r="1.6" fill="#0a0ae6"/>
<circle cx="319.8" cy="87.3" r="1.6" fill="#0a0ae6"/>
<circle cx="321.6" cy="90.9" r="1.6" fill="#0a0ae6"/>
<circle cx="323.0" cy="93.6" r="1.6" fill="#0a0ae6"/>
<circle cx="325.2" cy="95.4" r="1.6" fill="#0a0ae6"/>
<circle cx="327.0" cy="82.8" r="1.6" fill="#0a0ae6"/>
<circle cx="325.2" cy="79.2" r="1.6" fill="#0a0ae6"/>
<circle cx="324.3" cy="73.8" r="1.6" fill="#0a0ae6"/>
<circle cx="319.4" cy="124.1" r="1.6" fill="#0a0ae6"/>
<circle cx="321.2" cy="130.4" r="1.6" fill="#0a0ae6"/>
<circle cx="330.9" cy="121.4" r="1.6" fill="#0a0ae6"/>
<circle cx="324.0" cy="64.0" r="1.6" fill="#0a0ae6"/>
<circle cx="323.0" cy="98.0" r="1.6" fill="#0a0ae6"/>
<circle cx="326.0" cy="100.0" r="1.6" fill="#0a0ae6"/>
<rect x="330.1" y="73.3" width="4.6" height="4.6" fill="none" stroke="#c8c8ff" stroke-width="0.8"/>
<rect x="61.5" y="66.0" width="4.0" height="4.0" fill="none" stroke="#ffb0b0" stroke-width="0.8"/>
<text x="62.9" y="207.2" class="cnt" text-anchor="middle" fill="#e01a24" textLength="15.9" lengthAdjust="spacingAndGlyphs">268</text>
<text x="171.4" y="207.2" class="cnt" text-anchor="middle" fill="#761a78" textLength="10.6" lengthAdjust="spacingAndGlyphs">58</text>
<text x="331.5" y="207.2" class="cnt" text-anchor="middle" fill="#2020d4" textLength="15.9" lengthAdjust="spacingAndGlyphs">506</text>
<clipPath id="clipB"><rect x="415.4" y="16.2" width="329.0" height="180.20000000000002"/></clipPath>
<g clip-path="url(#clipB)">
<rect x="410.4" y="11.2" width="339.0" height="190.20000000000002" fill="#f1e3f2"/>
<path d="M490,11.2 L612.6,11.2 L612.6,125 Q612.6,143 594.6,143 L507,143 Q490,143 490,126 Z" fill="#e2cce4" />
<clipPath id="pkB"><polygon points="410.4,11.2 468.0,11.2 467.0,30.0 465.5,60.0 464.0,90.0 462.8,120.0 461.2,136.0 458.0,152.0 453.2,168.0 448.0,184.0 443.6,196.4 443.0,201.4 410.4,201.4"/></clipPath>
<polygon points="410.4,11.2 468.0,11.2 467.0,30.0 465.5,60.0 464.0,90.0 462.8,120.0 461.2,136.0 458.0,152.0 453.2,168.0 448.0,184.0 443.6,196.4 443.0,201.4 410.4,201.4" fill="#fde4e4" />
<g clip-path="url(#pkB)"><path d="M410.4,11.2 L455.8,11.2 L455.8,132 Q455.8,141 446.8,141 L410.4,141 Q410.4,141 410.4,141 Z" fill="#ffcccc" /></g>
<clipPath id="blB"><polygon points="659.0,11.2 749.4,11.2 749.4,201.4 628.0,201.4 628.5,196.4 633.0,178.0 638.0,162.0 642.0,142.0 645.6,124.0 651.0,86.0 654.0,60.0 657.0,35.0"/></clipPath>
<polygon points="659.0,11.2 749.4,11.2 749.4,201.4 628.0,201.4 628.5,196.4 633.0,178.0 638.0,162.0 642.0,142.0 645.6,124.0 651.0,86.0 654.0,60.0 657.0,35.0" fill="#e6e6fc" />
<g clip-path="url(#blB)"><path d="M675,11.2 L749.4,11.2 L749.4,143.8 Q749.4,143.8 749.4,143.8 L692,143.8 Q675,143.8 675,126.80000000000001 Z" fill="#cdcdfc" /></g>
<polyline points="468.0,11.2 467.0,30.0 465.5,60.0 464.0,90.0 462.8,120.0 461.2,136.0 458.0,152.0 453.2,168.0 448.0,184.0 443.6,196.4" fill="none" stroke="#fff" stroke-width="1.1" stroke-linejoin="round" />
<polyline points="628.5,196.4 633.0,178.0 638.0,162.0 642.0,142.0 645.6,124.0 651.0,86.0 654.0,60.0 657.0,35.0 659.0,11.2" fill="none" stroke="#fff" stroke-width="1.1" stroke-linejoin="round" />
</g>
<path d="M415.4,178.1H744.4 M415.4,159.8H744.4 M415.4,141.4H744.4 M415.4,123.1H744.4 M415.4,104.8H744.4 M415.4,86.5H744.4 M415.4,68.2H744.4 M415.4,49.8H744.4 M415.4,31.5H744.4 M497.0,16.2V196.4 M551.7,16.2V196.4 M606.3,16.2V196.4 M661.0,16.2V196.4 M715.6,16.2V196.4" stroke="#dcd6dc" stroke-width="1" fill="none" opacity="0.75"/>
<path d="M415.4,214.7H744.4 M497.0,196.4V226.5 M551.7,196.4V226.5 M606.3,196.4V226.5 M661.0,196.4V226.5 M715.6,196.4V226.5" stroke="#e0e0e0" stroke-width="1" fill="none"/>
<rect x="415.4" y="16.2" width="329.0" height="210.3" fill="none" stroke="#463c40" stroke-width="1.0"/>
<path d="M415.4,196.4H744.4" stroke="#3e3438" stroke-width="1.0"/>
<path d="M442.4,16.2V226.5" stroke="#3e3438" stroke-width="1.0"/>
<path d="M415.4,214.7H417.9 M415.4,196.4H417.9 M415.4,178.1H417.9 M415.4,159.8H417.9 M415.4,141.4H417.9 M415.4,123.1H417.9 M415.4,104.8H417.9 M415.4,86.5H417.9 M415.4,68.2H417.9 M415.4,49.8H417.9 M415.4,31.5H417.9 M442.4,224.0V226.5 M497.0,224.0V226.5 M551.7,224.0V226.5 M606.3,224.0V226.5 M661.0,224.0V226.5 M715.6,224.0V226.5" stroke="#333" stroke-width="0.9"/>
<text x="409.0" y="217.0" class="tl" text-anchor="end">-0.20</text>
<text x="409.0" y="198.7" class="tl" text-anchor="end">0</text>
<text x="409.0" y="180.4" class="tl" text-anchor="end">0.20</text>
<text x="409.0" y="162.1" class="tl" text-anchor="end">0.40</text>
<text x="409.0" y="143.7" class="tl" text-anchor="end">0.60</text>
<text x="409.0" y="125.4" class="tl" text-anchor="end">0.80</text>
<text x="409.0" y="107.1" class="tl" text-anchor="end">1</text>
<text x="409.0" y="88.8" class="tl" text-anchor="end">1.20</text>
<text x="409.0" y="70.5" class="tl" text-anchor="end">1.40</text>
<text x="409.0" y="52.1" class="tl" text-anchor="end">1.60</text>
<text x="409.0" y="33.8" class="tl" text-anchor="end">1.80</text>
<text x="442.4" y="236.0" class="tl" text-anchor="middle">0</text>
<text x="497.0" y="236.0" class="tl" text-anchor="middle">0.20</text>
<text x="551.7" y="236.0" class="tl" text-anchor="middle">0.40</text>
<text x="606.3" y="236.0" class="tl" text-anchor="middle">0.60</text>
<text x="661.0" y="236.0" class="tl" text-anchor="middle">0.80</text>
<text x="715.6" y="236.0" class="tl" text-anchor="middle">1</text>
<text x="387.4" y="121.2" class="at" text-anchor="middle" transform="rotate(-90 387.4 121.2)" dy="2.6">Norm R</text>
<text x="578.6" y="247.5" class="at" text-anchor="middle">Norm Theta</text>
<text x="394.7" y="12.6" class="let">B</text>
<ellipse cx="552.0" cy="80.05" rx="26.0" ry="26.75" fill="none" stroke="#8a3a96" stroke-width="0.9"/>
<ellipse cx="443.9" cy="73.9" rx="5.599999999999994" ry="27.6" fill="none" stroke="#e04848" stroke-width="0.7"/>
<ellipse cx="710.65" cy="86.95" rx="15.350000000000023" ry="24.349999999999998" fill="none" stroke="#3a3ad0" stroke-width="0.7"/>
<circle cx="492.5" cy="96.8" r="1.55" fill="#620a72"/>
<circle cx="517.9" cy="88.4" r="1.55" fill="#620a72"/>
<circle cx="520.1" cy="72.0" r="1.55" fill="#620a72"/>
<circle cx="529.2" cy="75.1" r="1.55" fill="#620a72"/>
<circle cx="531.2" cy="74.4" r="1.55" fill="#620a72"/>
<circle cx="529.2" cy="80.0" r="1.55" fill="#620a72"/>
<circle cx="531.6" cy="76.8" r="1.55" fill="#620a72"/>
<circle cx="534.3" cy="67.2" r="1.55" fill="#620a72"/>
<circle cx="539.6" cy="67.9" r="1.55" fill="#620a72"/>
<circle cx="539.6" cy="71.3" r="1.55" fill="#620a72"/>
<circle cx="546.0" cy="63.6" r="1.55" fill="#620a72"/>
<circle cx="544.8" cy="69.1" r="1.55" fill="#620a72"/>
<circle cx="544.8" cy="74.4" r="1.55" fill="#620a72"/>
<circle cx="542.4" cy="79.2" r="1.55" fill="#620a72"/>
<circle cx="537.2" cy="81.6" r="1.55" fill="#620a72"/>
<circle cx="538.8" cy="82.8" r="1.55" fill="#620a72"/>
<circle cx="537.6" cy="87.2" r="1.55" fill="#620a72"/>
<circle cx="534.0" cy="90.0" r="1.55" fill="#620a72"/>
<circle cx="536.9" cy="92.9" r="1.55" fill="#620a72"/>
<circle cx="551.6" cy="95.3" r="1.55" fill="#620a72"/>
<circle cx="549.6" cy="76.8" r="1.55" fill="#620a72"/>
<circle cx="552.0" cy="75.6" r="1.55" fill="#620a72"/>
<circle cx="553.2" cy="81.6" r="1.55" fill="#620a72"/>
<circle cx="556.8" cy="68.4" r="1.55" fill="#620a72"/>
<circle cx="559.2" cy="70.3" r="1.55" fill="#620a72"/>
<circle cx="563.6" cy="67.2" r="1.55" fill="#620a72"/>
<circle cx="562.9" cy="73.2" r="1.55" fill="#620a72"/>
<circle cx="561.7" cy="75.6" r="1.55" fill="#620a72"/>
<circle cx="556.4" cy="79.2" r="1.55" fill="#620a72"/>
<circle cx="559.2" cy="84.8" r="1.55" fill="#620a72"/>
<circle cx="560.5" cy="82.4" r="1.55" fill="#620a72"/>
<circle cx="557.3" cy="91.2" r="1.55" fill="#620a72"/>
<circle cx="565.3" cy="90.0" r="1.55" fill="#620a72"/>
<circle cx="566.0" cy="94.4" r="1.55" fill="#620a72"/>
<circle cx="575.3" cy="87.6" r="1.55" fill="#620a72"/>
<circle cx="588.8" cy="90.5" r="1.55" fill="#620a72"/>
<circle cx="606.6" cy="64.8" r="1.55" fill="#620a72"/>
<circle cx="481.2" cy="88.4" r="1.5" fill="#111111"/>
<circle cx="616.9" cy="79.7" r="1.5" fill="#111111"/>
<circle cx="618.3" cy="91.2" r="1.5" fill="#111111"/>
<circle cx="641.8" cy="93.3" r="1.5" fill="#111111"/>
<circle cx="641.0" cy="97.6" r="1.5" fill="#111111"/>
<circle cx="550.8" cy="82.4" r="1.3" fill="#f0e040"/>
<polygon points="442.1,52.9 443.5,53.9 444.5,58.9 446.3,63.9 446.9,70.6 447.1,79.2 447.7,85.1 446.9,91.1 444.5,94.6 442.1,94.1 441.5,87.1 442.1,74.5 441.7,62.9 441.9,56.9" fill="#ee0a0a"/>
<circle cx="442.9" cy="75.7" r="1.6" fill="#ee0a0a"/>
<circle cx="443.8" cy="78.3" r="1.6" fill="#ee0a0a"/>
<circle cx="441.4" cy="88.4" r="1.6" fill="#ee0a0a"/>
<circle cx="443.0" cy="62.2" r="1.6" fill="#ee0a0a"/>
<circle cx="446.9" cy="72.7" r="1.6" fill="#ee0a0a"/>
<circle cx="445.6" cy="89.8" r="1.6" fill="#ee0a0a"/>
<circle cx="444.8" cy="84.2" r="1.6" fill="#ee0a0a"/>
<circle cx="446.4" cy="77.7" r="1.6" fill="#ee0a0a"/>
<circle cx="443.3" cy="53.3" r="1.6" fill="#ee0a0a"/>
<circle cx="447.1" cy="72.6" r="1.6" fill="#ee0a0a"/>
<circle cx="446.1" cy="90.2" r="1.6" fill="#ee0a0a"/>
<circle cx="446.1" cy="92.1" r="1.6" fill="#ee0a0a"/>
<circle cx="443.9" cy="86.8" r="1.6" fill="#ee0a0a"/>
<circle cx="444.3" cy="92.7" r="1.6" fill="#ee0a0a"/>
<circle cx="442.2" cy="61.4" r="1.6" fill="#ee0a0a"/>
<circle cx="445.5" cy="65.1" r="1.6" fill="#ee0a0a"/>
<circle cx="444.7" cy="68.8" r="1.6" fill="#ee0a0a"/>
<circle cx="443.7" cy="77.5" r="1.6" fill="#ee0a0a"/>
<circle cx="445.2" cy="91.3" r="1.6" fill="#ee0a0a"/>
<circle cx="445.9" cy="92.4" r="1.6" fill="#ee0a0a"/>
<circle cx="447.4" cy="76.8" r="1.6" fill="#ee0a0a"/>
<circle cx="446.9" cy="76.9" r="1.6" fill="#ee0a0a"/>
<circle cx="443.2" cy="54.8" r="1.6" fill="#ee0a0a"/>
<circle cx="441.9" cy="86.8" r="1.6" fill="#ee0a0a"/>
<circle cx="444.1" cy="58.6" r="1.6" fill="#ee0a0a"/>
<circle cx="443.3" cy="85.4" r="1.6" fill="#ee0a0a"/>
<circle cx="446.1" cy="66.4" r="1.6" fill="#ee0a0a"/>
<circle cx="443.4" cy="55.3" r="1.6" fill="#ee0a0a"/>
<circle cx="442.6" cy="69.7" r="1.6" fill="#ee0a0a"/>
<circle cx="441.6" cy="89.7" r="1.6" fill="#ee0a0a"/>
<circle cx="443.4" cy="93.7" r="1.6" fill="#ee0a0a"/>
<circle cx="444.4" cy="74.6" r="1.6" fill="#ee0a0a"/>
<circle cx="445.6" cy="77.9" r="1.6" fill="#ee0a0a"/>
<circle cx="445.0" cy="79.0" r="1.6" fill="#ee0a0a"/>
<circle cx="444.2" cy="83.3" r="1.6" fill="#ee0a0a"/>
<circle cx="442.9" cy="65.1" r="1.6" fill="#ee0a0a"/>
<circle cx="444.1" cy="77.2" r="1.6" fill="#ee0a0a"/>
<circle cx="441.4" cy="78.8" r="1.6" fill="#ee0a0a"/>
<circle cx="445.5" cy="72.3" r="1.6" fill="#ee0a0a"/>
<circle cx="445.9" cy="67.3" r="1.6" fill="#ee0a0a"/>
<circle cx="446.0" cy="84.1" r="1.6" fill="#ee0a0a"/>
<circle cx="443.0" cy="71.8" r="1.6" fill="#ee0a0a"/>
<circle cx="445.3" cy="65.9" r="1.6" fill="#ee0a0a"/>
<circle cx="443.7" cy="65.6" r="1.6" fill="#ee0a0a"/>
<circle cx="443.8" cy="77.9" r="1.6" fill="#ee0a0a"/>
<circle cx="443.3" cy="68.4" r="1.6" fill="#ee0a0a"/>
<circle cx="445.1" cy="84.0" r="1.6" fill="#ee0a0a"/>
<circle cx="443.4" cy="61.7" r="1.6" fill="#ee0a0a"/>
<circle cx="442.6" cy="70.9" r="1.6" fill="#ee0a0a"/>
<circle cx="443.5" cy="66.5" r="1.6" fill="#ee0a0a"/>
<circle cx="446.9" cy="71.1" r="1.6" fill="#ee0a0a"/>
<circle cx="443.6" cy="80.3" r="1.6" fill="#ee0a0a"/>
<circle cx="447.2" cy="71.6" r="1.6" fill="#ee0a0a"/>
<circle cx="442.8" cy="57.3" r="1.6" fill="#ee0a0a"/>
<circle cx="444.8" cy="60.3" r="1.6" fill="#ee0a0a"/>
<circle cx="446.7" cy="88.5" r="1.6" fill="#ee0a0a"/>
<circle cx="442.5" cy="64.1" r="1.6" fill="#ee0a0a"/>
<circle cx="446.7" cy="79.9" r="1.6" fill="#ee0a0a"/>
<circle cx="446.7" cy="67.0" r="1.6" fill="#ee0a0a"/>
<circle cx="442.2" cy="64.7" r="1.6" fill="#ee0a0a"/>
<circle cx="443.6" cy="70.1" r="1.6" fill="#ee0a0a"/>
<circle cx="444.1" cy="69.8" r="1.6" fill="#ee0a0a"/>
<circle cx="444.2" cy="93.3" r="1.6" fill="#ee0a0a"/>
<circle cx="446.3" cy="88.4" r="1.6" fill="#ee0a0a"/>
<circle cx="445.7" cy="74.6" r="1.6" fill="#ee0a0a"/>
<circle cx="443.2" cy="66.8" r="1.6" fill="#ee0a0a"/>
<circle cx="442.8" cy="55.0" r="1.6" fill="#ee0a0a"/>
<circle cx="445.2" cy="64.5" r="1.6" fill="#ee0a0a"/>
<circle cx="447.4" cy="82.2" r="1.6" fill="#ee0a0a"/>
<circle cx="447.3" cy="77.1" r="1.6" fill="#ee0a0a"/>
<circle cx="441.4" cy="84.4" r="1.6" fill="#ee0a0a"/>
<circle cx="442.5" cy="65.0" r="1.6" fill="#ee0a0a"/>
<circle cx="445.7" cy="74.8" r="1.6" fill="#ee0a0a"/>
<circle cx="444.1" cy="92.8" r="1.6" fill="#ee0a0a"/>
<circle cx="445.4" cy="66.8" r="1.6" fill="#ee0a0a"/>
<circle cx="443.0" cy="89.5" r="1.6" fill="#ee0a0a"/>
<circle cx="444.5" cy="86.0" r="1.6" fill="#ee0a0a"/>
<circle cx="443.7" cy="60.6" r="1.6" fill="#ee0a0a"/>
<circle cx="444.9" cy="87.5" r="1.6" fill="#ee0a0a"/>
<circle cx="442.4" cy="86.4" r="1.6" fill="#ee0a0a"/>
<circle cx="447.5" cy="87.1" r="1.6" fill="#ee0a0a"/>
<circle cx="445.5" cy="89.5" r="1.6" fill="#ee0a0a"/>
<circle cx="441.6" cy="63.8" r="1.6" fill="#ee0a0a"/>
<circle cx="443.1" cy="74.9" r="1.6" fill="#ee0a0a"/>
<circle cx="447.8" cy="91.9" r="1.6" fill="#ee0a0a"/>
<circle cx="446.7" cy="70.5" r="1.6" fill="#ee0a0a"/>
<circle cx="447.1" cy="64.2" r="1.6" fill="#ee0a0a"/>
<circle cx="443.8" cy="56.8" r="1.6" fill="#ee0a0a"/>
<circle cx="446.3" cy="91.8" r="1.6" fill="#ee0a0a"/>
<circle cx="447.4" cy="90.7" r="1.6" fill="#ee0a0a"/>
<circle cx="445.1" cy="61.6" r="1.6" fill="#ee0a0a"/>
<circle cx="444.0" cy="58.0" r="1.6" fill="#ee0a0a"/>
<circle cx="447.2" cy="85.1" r="1.6" fill="#ee0a0a"/>
<circle cx="447.8" cy="80.2" r="1.6" fill="#ee0a0a"/>
<circle cx="453.0" cy="70.1" r="1.6" fill="#ee0a0a"/>
<circle cx="450.9" cy="87.3" r="1.6" fill="#ee0a0a"/>
<circle cx="449.5" cy="83.4" r="1.6" fill="#ee0a0a"/>
<circle cx="446.0" cy="94.5" r="1.6" fill="#ee0a0a"/>
<circle cx="448.5" cy="68.0" r="1.6" fill="#ee0a0a"/>
<circle cx="449.0" cy="76.0" r="1.6" fill="#ee0a0a"/>
<polygon points="710.0,59.4 711.5,59.9 712.9,64.9 714.8,70.9 714.8,80.6 715.2,94.2 714.8,104.1 712.9,111.1 710.5,112.1 709.1,107.1 707.7,99.1 707.6,87.4 707.4,75.8 708.2,67.9 709.1,62.9" fill="#0a0ae6"/>
<circle cx="709.0" cy="64.1" r="1.6" fill="#0a0ae6"/>
<circle cx="710.4" cy="66.9" r="1.6" fill="#0a0ae6"/>
<circle cx="707.6" cy="80.4" r="1.6" fill="#0a0ae6"/>
<circle cx="714.8" cy="102.1" r="1.6" fill="#0a0ae6"/>
<circle cx="713.5" cy="70.6" r="1.6" fill="#0a0ae6"/>
<circle cx="711.6" cy="73.6" r="1.6" fill="#0a0ae6"/>
<circle cx="714.0" cy="102.5" r="1.6" fill="#0a0ae6"/>
<circle cx="713.8" cy="69.0" r="1.6" fill="#0a0ae6"/>
<circle cx="709.6" cy="92.7" r="1.6" fill="#0a0ae6"/>
<circle cx="713.2" cy="105.1" r="1.6" fill="#0a0ae6"/>
<circle cx="712.1" cy="95.1" r="1.6" fill="#0a0ae6"/>
<circle cx="711.3" cy="68.2" r="1.6" fill="#0a0ae6"/>
<circle cx="711.0" cy="63.4" r="1.6" fill="#0a0ae6"/>
<circle cx="711.7" cy="74.9" r="1.6" fill="#0a0ae6"/>
<circle cx="714.7" cy="89.7" r="1.6" fill="#0a0ae6"/>
<circle cx="714.5" cy="104.7" r="1.6" fill="#0a0ae6"/>
<circle cx="711.3" cy="81.1" r="1.6" fill="#0a0ae6"/>
<circle cx="712.1" cy="82.0" r="1.6" fill="#0a0ae6"/>
<circle cx="708.4" cy="75.1" r="1.6" fill="#0a0ae6"/>
<circle cx="707.4" cy="92.6" r="1.6" fill="#0a0ae6"/>
<circle cx="709.4" cy="87.6" r="1.6" fill="#0a0ae6"/>
<circle cx="711.0" cy="77.2" r="1.6" fill="#0a0ae6"/>
<circle cx="710.5" cy="69.5" r="1.6" fill="#0a0ae6"/>
<circle cx="712.4" cy="73.6" r="1.6" fill="#0a0ae6"/>
<circle cx="710.0" cy="99.2" r="1.6" fill="#0a0ae6"/>
<circle cx="709.7" cy="88.9" r="1.6" fill="#0a0ae6"/>
<circle cx="707.5" cy="71.0" r="1.6" fill="#0a0ae6"/>
<circle cx="713.5" cy="92.0" r="1.6" fill="#0a0ae6"/>
<circle cx="709.0" cy="76.5" r="1.6" fill="#0a0ae6"/>
<circle cx="708.5" cy="83.5" r="1.6" fill="#0a0ae6"/>
<circle cx="707.4" cy="96.5" r="1.6" fill="#0a0ae6"/>
<circle cx="713.2" cy="110.8" r="1.6" fill="#0a0ae6"/>
<circle cx="707.2" cy="74.3" r="1.6" fill="#0a0ae6"/>
<circle cx="715.2" cy="100.8" r="1.6" fill="#0a0ae6"/>
<circle cx="710.5" cy="109.9" r="1.6" fill="#0a0ae6"/>
<circle cx="712.3" cy="103.1" r="1.6" fill="#0a0ae6"/>
<circle cx="709.5" cy="68.9" r="1.6" fill="#0a0ae6"/>
<circle cx="710.8" cy="65.9" r="1.6" fill="#0a0ae6"/>
<circle cx="710.2" cy="110.9" r="1.6" fill="#0a0ae6"/>
<circle cx="713.7" cy="78.3" r="1.6" fill="#0a0ae6"/>
<circle cx="709.5" cy="63.8" r="1.6" fill="#0a0ae6"/>
<circle cx="715.3" cy="81.6" r="1.6" fill="#0a0ae6"/>
<circle cx="712.8" cy="66.7" r="1.6" fill="#0a0ae6"/>
<circle cx="707.3" cy="85.2" r="1.6" fill="#0a0ae6"/>
<circle cx="708.0" cy="87.3" r="1.6" fill="#0a0ae6"/>
<circle cx="713.6" cy="80.8" r="1.6" fill="#0a0ae6"/>
<circle cx="715.4" cy="84.5" r="1.6" fill="#0a0ae6"/>
<circle cx="709.1" cy="80.9" r="1.6" fill="#0a0ae6"/>
<circle cx="707.3" cy="81.5" r="1.6" fill="#0a0ae6"/>
<circle cx="709.1" cy="107.0" r="1.6" fill="#0a0ae6"/>
<circle cx="714.1" cy="85.7" r="1.6" fill="#0a0ae6"/>
<circle cx="709.1" cy="69.8" r="1.6" fill="#0a0ae6"/>
<circle cx="709.0" cy="105.9" r="1.6" fill="#0a0ae6"/>
<circle cx="714.9" cy="89.3" r="1.6" fill="#0a0ae6"/>
<circle cx="715.4" cy="80.5" r="1.6" fill="#0a0ae6"/>
<circle cx="714.7" cy="94.1" r="1.6" fill="#0a0ae6"/>
<circle cx="713.7" cy="99.1" r="1.6" fill="#0a0ae6"/>
<circle cx="711.2" cy="63.6" r="1.6" fill="#0a0ae6"/>
<circle cx="708.8" cy="106.1" r="1.6" fill="#0a0ae6"/>
<circle cx="709.9" cy="94.3" r="1.6" fill="#0a0ae6"/>
<circle cx="713.8" cy="93.5" r="1.6" fill="#0a0ae6"/>
<circle cx="713.9" cy="87.3" r="1.6" fill="#0a0ae6"/>
<circle cx="712.6" cy="95.9" r="1.6" fill="#0a0ae6"/>
<circle cx="709.3" cy="108.8" r="1.6" fill="#0a0ae6"/>
<circle cx="715.2" cy="94.9" r="1.6" fill="#0a0ae6"/>
<circle cx="712.4" cy="89.5" r="1.6" fill="#0a0ae6"/>
<circle cx="713.3" cy="109.0" r="1.6" fill="#0a0ae6"/>
<circle cx="713.9" cy="101.2" r="1.6" fill="#0a0ae6"/>
<circle cx="714.5" cy="88.5" r="1.6" fill="#0a0ae6"/>
<circle cx="714.5" cy="69.5" r="1.6" fill="#0a0ae6"/>
<circle cx="712.7" cy="76.5" r="1.6" fill="#0a0ae6"/>
<circle cx="714.6" cy="100.7" r="1.6" fill="#0a0ae6"/>
<circle cx="711.0" cy="87.2" r="1.6" fill="#0a0ae6"/>
<circle cx="712.1" cy="85.1" r="1.6" fill="#0a0ae6"/>
<circle cx="714.4" cy="91.6" r="1.6" fill="#0a0ae6"/>
<circle cx="708.2" cy="78.3" r="1.6" fill="#0a0ae6"/>
<circle cx="713.5" cy="87.0" r="1.6" fill="#0a0ae6"/>
<circle cx="711.6" cy="79.3" r="1.6" fill="#0a0ae6"/>
<circle cx="713.7" cy="75.5" r="1.6" fill="#0a0ae6"/>
<circle cx="709.0" cy="85.0" r="1.6" fill="#0a0ae6"/>
<circle cx="708.0" cy="92.3" r="1.6" fill="#0a0ae6"/>
<circle cx="714.5" cy="86.4" r="1.6" fill="#0a0ae6"/>
<circle cx="710.7" cy="105.3" r="1.6" fill="#0a0ae6"/>
<circle cx="714.5" cy="69.2" r="1.6" fill="#0a0ae6"/>
<circle cx="709.6" cy="104.1" r="1.6" fill="#0a0ae6"/>
<circle cx="710.6" cy="102.0" r="1.6" fill="#0a0ae6"/>
<circle cx="708.5" cy="66.6" r="1.6" fill="#0a0ae6"/>
<circle cx="711.2" cy="77.0" r="1.6" fill="#0a0ae6"/>
<circle cx="711.6" cy="107.8" r="1.6" fill="#0a0ae6"/>
<circle cx="709.7" cy="88.2" r="1.6" fill="#0a0ae6"/>
<circle cx="711.1" cy="97.5" r="1.6" fill="#0a0ae6"/>
<circle cx="711.1" cy="62.6" r="1.6" fill="#0a0ae6"/>
<circle cx="709.1" cy="104.7" r="1.6" fill="#0a0ae6"/>
<circle cx="710.0" cy="100.3" r="1.6" fill="#0a0ae6"/>
<circle cx="715.4" cy="92.7" r="1.6" fill="#0a0ae6"/>
<circle cx="712.8" cy="91.7" r="1.6" fill="#0a0ae6"/>
<circle cx="709.7" cy="108.2" r="1.6" fill="#0a0ae6"/>
<circle cx="711.0" cy="108.2" r="1.6" fill="#0a0ae6"/>
<circle cx="709.6" cy="105.8" r="1.6" fill="#0a0ae6"/>
<circle cx="713.7" cy="91.9" r="1.6" fill="#0a0ae6"/>
<circle cx="710.8" cy="66.2" r="1.6" fill="#0a0ae6"/>
<circle cx="713.6" cy="78.2" r="1.6" fill="#0a0ae6"/>
<circle cx="712.6" cy="65.8" r="1.6" fill="#0a0ae6"/>
<circle cx="713.9" cy="68.2" r="1.6" fill="#0a0ae6"/>
<circle cx="714.7" cy="78.8" r="1.6" fill="#0a0ae6"/>
<circle cx="711.9" cy="77.6" r="1.6" fill="#0a0ae6"/>
<circle cx="712.3" cy="63.6" r="1.6" fill="#0a0ae6"/>
<circle cx="710.4" cy="109.5" r="1.6" fill="#0a0ae6"/>
<circle cx="708.5" cy="94.2" r="1.6" fill="#0a0ae6"/>
<circle cx="709.8" cy="74.9" r="1.6" fill="#0a0ae6"/>
<circle cx="713.8" cy="102.5" r="1.6" fill="#0a0ae6"/>
<circle cx="712.0" cy="85.5" r="1.6" fill="#0a0ae6"/>
<circle cx="711.9" cy="109.6" r="1.6" fill="#0a0ae6"/>
<circle cx="708.0" cy="94.0" r="1.6" fill="#0a0ae6"/>
<circle cx="712.7" cy="99.1" r="1.6" fill="#0a0ae6"/>
<circle cx="712.3" cy="103.8" r="1.6" fill="#0a0ae6"/>
<circle cx="709.6" cy="109.1" r="1.6" fill="#0a0ae6"/>
<circle cx="710.5" cy="91.1" r="1.6" fill="#0a0ae6"/>
<circle cx="714.6" cy="96.8" r="1.6" fill="#0a0ae6"/>
<circle cx="709.6" cy="71.1" r="1.6" fill="#0a0ae6"/>
<circle cx="709.8" cy="92.7" r="1.6" fill="#0a0ae6"/>
<circle cx="710.4" cy="80.3" r="1.6" fill="#0a0ae6"/>
<circle cx="713.9" cy="74.0" r="1.6" fill="#0a0ae6"/>
<circle cx="710.5" cy="59.2" r="1.6" fill="#0a0ae6"/>
<circle cx="708.6" cy="87.9" r="1.6" fill="#0a0ae6"/>
<circle cx="712.9" cy="92.0" r="1.6" fill="#0a0ae6"/>
<circle cx="710.1" cy="110.3" r="1.6" fill="#0a0ae6"/>
<circle cx="712.3" cy="67.0" r="1.6" fill="#0a0ae6"/>
<circle cx="712.1" cy="75.5" r="1.6" fill="#0a0ae6"/>
<circle cx="707.8" cy="72.6" r="1.6" fill="#0a0ae6"/>
<circle cx="714.6" cy="100.9" r="1.6" fill="#0a0ae6"/>
<circle cx="708.3" cy="71.5" r="1.6" fill="#0a0ae6"/>
<circle cx="708.4" cy="101.6" r="1.6" fill="#0a0ae6"/>
<circle cx="712.8" cy="88.3" r="1.6" fill="#0a0ae6"/>
<circle cx="711.5" cy="67.1" r="1.6" fill="#0a0ae6"/>
<circle cx="709.7" cy="65.1" r="1.6" fill="#0a0ae6"/>
<circle cx="709.5" cy="107.0" r="1.6" fill="#0a0ae6"/>
<circle cx="713.0" cy="98.4" r="1.6" fill="#0a0ae6"/>
<circle cx="712.6" cy="110.4" r="1.6" fill="#0a0ae6"/>
<circle cx="714.5" cy="97.7" r="1.6" fill="#0a0ae6"/>
<circle cx="711.8" cy="96.3" r="1.6" fill="#0a0ae6"/>
<circle cx="713.2" cy="88.6" r="1.6" fill="#0a0ae6"/>
<circle cx="708.2" cy="68.5" r="1.6" fill="#0a0ae6"/>
<circle cx="707.5" cy="77.4" r="1.6" fill="#0a0ae6"/>
<circle cx="708.5" cy="108.9" r="1.6" fill="#0a0ae6"/>
<circle cx="708.6" cy="95.1" r="1.6" fill="#0a0ae6"/>
<circle cx="706.2" cy="73.2" r="1.6" fill="#0a0ae6"/>
<circle cx="709.5" cy="64.6" r="1.6" fill="#0a0ae6"/>
<circle cx="707.4" cy="97.9" r="1.6" fill="#0a0ae6"/>
<circle cx="710.4" cy="84.2" r="1.6" fill="#0a0ae6"/>
<circle cx="707.4" cy="74.6" r="1.6" fill="#0a0ae6"/>
<circle cx="708.5" cy="110.3" r="1.6" fill="#0a0ae6"/>
<circle cx="707.7" cy="89.2" r="1.6" fill="#0a0ae6"/>
<circle cx="708.6" cy="63.4" r="1.6" fill="#0a0ae6"/>
<circle cx="707.7" cy="73.1" r="1.6" fill="#0a0ae6"/>
<circle cx="705.8" cy="75.5" r="1.6" fill="#0a0ae6"/>
<circle cx="701.3" cy="67.1" r="1.6" fill="#0a0ae6"/>
<circle cx="700.7" cy="73.4" r="1.6" fill="#0a0ae6"/>
<circle cx="689.9" cy="77.0" r="1.6" fill="#0a0ae6"/>
<circle cx="690.5" cy="85.1" r="1.6" fill="#0a0ae6"/>
<circle cx="692.3" cy="93.2" r="1.6" fill="#0a0ae6"/>
<circle cx="695.3" cy="95.0" r="1.6" fill="#0a0ae6"/>
<circle cx="697.1" cy="98.3" r="1.6" fill="#0a0ae6"/>
<circle cx="699.8" cy="92.3" r="1.6" fill="#0a0ae6"/>
<circle cx="702.5" cy="95.9" r="1.6" fill="#0a0ae6"/>
<circle cx="703.1" cy="99.5" r="1.6" fill="#0a0ae6"/>
<circle cx="705.2" cy="102.3" r="1.6" fill="#0a0ae6"/>
<circle cx="702.5" cy="84.2" r="1.6" fill="#0a0ae6"/>
<circle cx="703.4" cy="87.8" r="1.6" fill="#0a0ae6"/>
<circle cx="701.3" cy="78.8" r="1.6" fill="#0a0ae6"/>
<circle cx="705.2" cy="81.5" r="1.6" fill="#0a0ae6"/>
<circle cx="698.9" cy="127.5" r="1.6" fill="#0a0ae6"/>
<circle cx="700.2" cy="133.2" r="1.6" fill="#0a0ae6"/>
<circle cx="710.3" cy="124.2" r="1.6" fill="#0a0ae6"/>
<rect x="709.2" y="78.3" width="4.6" height="4.6" fill="none" stroke="#c8c8ff" stroke-width="0.8"/>
<rect x="441.2" y="74.1" width="4.0" height="4.0" fill="none" stroke="#ffb0b0" stroke-width="0.8"/>
<text x="443.4" y="206.7" class="cnt" text-anchor="middle" fill="#e01a24" textLength="15.9" lengthAdjust="spacingAndGlyphs">268</text>
<text x="551.3" y="206.7" class="cnt" text-anchor="middle" fill="#761a78" textLength="10.6" lengthAdjust="spacingAndGlyphs">53</text>
<text x="710.5" y="206.7" class="cnt" text-anchor="middle" fill="#2020d4" textLength="15.9" lengthAdjust="spacingAndGlyphs">506</text>
<clipPath id="clipC"><rect x="32.6" y="264.5" width="329.79999999999995" height="183.3"/></clipPath>
<g clip-path="url(#clipC)">
<rect x="27.6" y="259.5" width="339.79999999999995" height="193.3" fill="#f1e3f2"/>
<path d="M27.6,259.5 L367.4,259.5 L367.4,359.5 Q367.4,359.5 367.4,359.5 L27.6,359.5 Q27.6,359.5 27.6,359.5 Z" fill="#e2cce4" />
<clipPath id="pkC"><polygon points="27.6,265.2 59.0,271.3 62.2,272.0 65.4,276.0 67.8,284.0 70.2,296.2 71.6,310.0 72.3,330.0 73.2,345.0 75.0,362.0 77.5,380.0 80.8,400.0 84.7,428.0 87.8,447.8 88.0,452.8 27.6,452.8"/></clipPath>
<polygon points="27.6,265.2 59.0,271.3 62.2,272.0 65.4,276.0 67.8,284.0 70.2,296.2 71.6,310.0 72.3,330.0 73.2,345.0 75.0,362.0 77.5,380.0 80.8,400.0 84.7,428.0 87.8,447.8 88.0,452.8 27.6,452.8" fill="#fde4e4" />
<g clip-path="url(#pkC)"><path d="M27.6,259.5 L100,259.5 L100,362 Q100,362 100,362 L27.6,362 Q27.6,362 27.6,362 Z" fill="#ffcccc" /></g>
<clipPath id="blC"><polygon points="309.5,259.5 367.4,259.5 367.4,370.5 345.0,369.8 338.0,369.0 332.0,367.0 328.0,363.5 325.5,359.0 323.5,353.0 322.0,345.0 320.5,330.0 318.5,310.0 316.0,293.0 313.6,280.0 311.0,268.0"/></clipPath>
<polygon points="309.5,259.5 367.4,259.5 367.4,370.5 345.0,369.8 338.0,369.0 332.0,367.0 328.0,363.5 325.5,359.0 323.5,353.0 322.0,345.0 320.5,330.0 318.5,310.0 316.0,293.0 313.6,280.0 311.0,268.0" fill="#e6e6fc" />
<g clip-path="url(#blC)"><path d="M27.6,259.5 L367.4,259.5 L367.4,355 Q367.4,355 367.4,355 L27.6,355 Q27.6,355 27.6,355 Z" fill="#cdcdfc" /></g>
<polyline points="27.6,265.2 59.0,271.3 62.2,272.0 65.4,276.0 67.8,284.0 70.2,296.2 71.6,310.0 72.3,330.0 73.2,345.0 75.0,362.0 77.5,380.0 80.8,400.0 84.7,428.0 87.8,447.8" fill="none" stroke="#fff" stroke-width="1.1" stroke-linejoin="round" />
<polyline points="367.4,370.5 345.0,369.8 338.0,369.0 332.0,367.0 328.0,363.5 325.5,359.0 323.5,353.0 322.0,345.0 320.5,330.0 318.5,310.0 316.0,293.0 313.6,280.0 311.0,268.0 309.5,259.5" fill="none" stroke="#fff" stroke-width="1.1" stroke-linejoin="round" />
</g>
<path d="M32.6,428.5H362.4 M32.6,409.2H362.4 M32.6,390.0H362.4 M32.6,370.7H362.4 M32.6,351.4H362.4 M32.6,332.1H362.4 M32.6,312.8H362.4 M32.6,293.6H362.4 M32.6,274.3H362.4 M114.7,264.5V447.8 M169.6,264.5V447.8 M224.4,264.5V447.8 M279.3,264.5V447.8 M334.1,264.5V447.8" stroke="#dcd6dc" stroke-width="1" fill="none" opacity="0.75"/>
<path d="M32.6,467.1H362.4 M114.7,447.8V478.5 M169.6,447.8V478.5 M224.4,447.8V478.5 M279.3,447.8V478.5 M334.1,447.8V478.5" stroke="#e0e0e0" stroke-width="1" fill="none"/>
<rect x="32.6" y="264.5" width="329.79999999999995" height="214.0" fill="none" stroke="#858082" stroke-width="1.5"/>
<path d="M32.6,447.8H362.4" stroke="#8a8486" stroke-width="1.8"/>
<path d="M59.9,264.5V478.5" stroke="#8a8486" stroke-width="1.8"/>
<path d="M32.6,467.1H35.1 M32.6,447.8H35.1 M32.6,428.5H35.1 M32.6,409.2H35.1 M32.6,390.0H35.1 M32.6,370.7H35.1 M32.6,351.4H35.1 M32.6,332.1H35.1 M32.6,312.8H35.1 M32.6,293.6H35.1 M32.6,274.3H35.1 M59.9,476.0V478.5 M114.7,476.0V478.5 M169.6,476.0V478.5 M224.4,476.0V478.5 M279.3,476.0V478.5 M334.1,476.0V478.5" stroke="#333" stroke-width="0.9"/>
<text x="26.900000000000002" y="469.4" class="tl" text-anchor="end">-0.20</text>
<text x="26.900000000000002" y="450.1" class="tl" text-anchor="end">0</text>
<text x="26.900000000000002" y="430.8" class="tl" text-anchor="end">0.20</text>
<text x="26.900000000000002" y="411.5" class="tl" text-anchor="end">0.40</text>
<text x="26.900000000000002" y="392.3" class="tl" text-anchor="end">0.60</text>
<text x="26.900000000000002" y="373.0" class="tl" text-anchor="end">0.80</text>
<text x="26.900000000000002" y="353.7" class="tl" text-anchor="end">1</text>
<text x="26.900000000000002" y="334.4" class="tl" text-anchor="end">1.20</text>
<text x="26.900000000000002" y="315.1" class="tl" text-anchor="end">1.40</text>
<text x="26.900000000000002" y="295.9" class="tl" text-anchor="end">1.60</text>
<text x="26.900000000000002" y="276.6" class="tl" text-anchor="end">1.80</text>
<text x="59.9" y="487.7" class="tl" text-anchor="middle">0</text>
<text x="114.7" y="487.7" class="tl" text-anchor="middle">0.20</text>
<text x="169.6" y="487.7" class="tl" text-anchor="middle">0.40</text>
<text x="224.4" y="487.7" class="tl" text-anchor="middle">0.60</text>
<text x="279.3" y="487.7" class="tl" text-anchor="middle">0.80</text>
<text x="334.1" y="487.7" class="tl" text-anchor="middle">1</text>
<text x="4.6" y="370.8" class="at" text-anchor="middle" transform="rotate(-90 4.6 370.8)" dy="2.6">Norm R</text>
<text x="197" y="498.6" class="at" text-anchor="middle">Norm Theta</text>
<text x="12.6" y="260.7" class="let">C</text>
<ellipse cx="226.25" cy="327.25" rx="98.35000000000001" ry="14.25" fill="none" stroke="#8a3a96" stroke-width="0.9"/>
<ellipse cx="61.099999999999994" cy="330.9" rx="6.699999999999999" ry="14.099999999999994" fill="none" stroke="#e04848" stroke-width="0.7"/>
<ellipse cx="333.65" cy="316.9" rx="8.349999999999994" ry="17.099999999999994" fill="none" stroke="#3a3ad0" stroke-width="0.7"/>
<circle cx="73.8" cy="331.8" r="1.5" fill="#620a72"/>
<circle cx="114.5" cy="338.6" r="1.5" fill="#620a72"/>
<circle cx="149.4" cy="324.1" r="1.5" fill="#620a72"/>
<circle cx="149.4" cy="335.1" r="1.5" fill="#620a72"/>
<circle cx="192.5" cy="326.5" r="1.5" fill="#620a72"/>
<circle cx="207.3" cy="315.0" r="1.5" fill="#620a72"/>
<circle cx="201.7" cy="319.4" r="1.5" fill="#620a72"/>
<circle cx="203.7" cy="318.8" r="1.5" fill="#620a72"/>
<circle cx="213.7" cy="318.5" r="1.5" fill="#620a72"/>
<circle cx="210.4" cy="320.1" r="1.5" fill="#620a72"/>
<circle cx="206.4" cy="321.4" r="1.5" fill="#620a72"/>
<circle cx="208.4" cy="323.5" r="1.5" fill="#620a72"/>
<circle cx="209.7" cy="325.5" r="1.5" fill="#620a72"/>
<circle cx="207.7" cy="324.8" r="1.5" fill="#620a72"/>
<circle cx="202.3" cy="327.5" r="1.5" fill="#620a72"/>
<circle cx="205.0" cy="328.2" r="1.5" fill="#620a72"/>
<circle cx="203.0" cy="330.2" r="1.5" fill="#620a72"/>
<circle cx="203.7" cy="331.5" r="1.5" fill="#620a72"/>
<circle cx="209.4" cy="332.4" r="1.5" fill="#620a72"/>
<circle cx="218.2" cy="332.8" r="1.5" fill="#620a72"/>
<circle cx="200.3" cy="335.9" r="1.5" fill="#620a72"/>
<circle cx="202.3" cy="335.1" r="1.5" fill="#620a72"/>
<circle cx="208.4" cy="336.2" r="1.5" fill="#620a72"/>
<circle cx="211.0" cy="338.5" r="1.5" fill="#620a72"/>
<circle cx="229.1" cy="335.9" r="1.5" fill="#620a72"/>
<circle cx="247.2" cy="315.7" r="1.5" fill="#620a72"/>
<circle cx="240.5" cy="327.7" r="1.5" fill="#620a72"/>
<circle cx="250.8" cy="326.1" r="1.5" fill="#620a72"/>
<circle cx="246.5" cy="334.2" r="1.5" fill="#620a72"/>
<circle cx="279.3" cy="328.6" r="1.5" fill="#620a72"/>
<circle cx="283.0" cy="331.1" r="1.5" fill="#620a72"/>
<circle cx="285.6" cy="331.8" r="1.5" fill="#620a72"/>
<circle cx="287.6" cy="330.6" r="1.5" fill="#620a72"/>
<circle cx="291.7" cy="327.1" r="1.5" fill="#620a72"/>
<circle cx="294.6" cy="320.1" r="1.5" fill="#620a72"/>
<circle cx="301.0" cy="315.0" r="1.5" fill="#620a72"/>
<circle cx="304.4" cy="313.0" r="1.5" fill="#620a72"/>
<circle cx="307.7" cy="314.1" r="1.5" fill="#620a72"/>
<circle cx="299.4" cy="328.2" r="1.5" fill="#620a72"/>
<circle cx="302.4" cy="329.5" r="1.5" fill="#620a72"/>
<circle cx="314.7" cy="324.8" r="1.5" fill="#620a72"/>
<rect x="106.8" y="330.3" width="4.6" height="4.6" fill="none" stroke="#9a4aa6" stroke-width="0.8"/>
<rect x="312.4" y="316.2" width="4.6" height="4.6" fill="none" stroke="#9a4aa6" stroke-width="0.8"/>
<circle cx="314.8" cy="382.3" r="1.5" fill="#111111"/>
<circle cx="316.3" cy="411.5" r="1.5" fill="#111111"/>
<circle cx="225.8" cy="327.2" r="1.0" fill="#c0a040"/>
<polygon points="60.6,315.9 62.0,316.9 63.0,321.9 64.6,326.8 65.1,331.8 66.0,337.2 65.3,342.1 63.0,344.6 60.6,344.6 59.8,339.1 60.1,330.3 59.8,322.9" fill="#ee0a0a"/>
<circle cx="63.8" cy="337.6" r="1.6" fill="#ee0a0a"/>
<circle cx="64.6" cy="343.1" r="1.6" fill="#ee0a0a"/>
<circle cx="59.5" cy="329.2" r="1.6" fill="#ee0a0a"/>
<circle cx="66.1" cy="334.8" r="1.6" fill="#ee0a0a"/>
<circle cx="62.7" cy="322.5" r="1.6" fill="#ee0a0a"/>
<circle cx="63.2" cy="332.5" r="1.6" fill="#ee0a0a"/>
<circle cx="61.3" cy="342.9" r="1.6" fill="#ee0a0a"/>
<circle cx="60.8" cy="321.6" r="1.6" fill="#ee0a0a"/>
<circle cx="61.4" cy="344.3" r="1.6" fill="#ee0a0a"/>
<circle cx="63.2" cy="335.7" r="1.6" fill="#ee0a0a"/>
<circle cx="60.8" cy="343.7" r="1.6" fill="#ee0a0a"/>
<circle cx="61.9" cy="320.1" r="1.6" fill="#ee0a0a"/>
<circle cx="60.3" cy="317.0" r="1.6" fill="#ee0a0a"/>
<circle cx="61.5" cy="333.4" r="1.6" fill="#ee0a0a"/>
<circle cx="61.7" cy="324.5" r="1.6" fill="#ee0a0a"/>
<circle cx="65.2" cy="329.7" r="1.6" fill="#ee0a0a"/>
<circle cx="61.6" cy="329.7" r="1.6" fill="#ee0a0a"/>
<circle cx="64.7" cy="340.8" r="1.6" fill="#ee0a0a"/>
<circle cx="61.9" cy="332.6" r="1.6" fill="#ee0a0a"/>
<circle cx="60.6" cy="344.1" r="1.6" fill="#ee0a0a"/>
<circle cx="60.7" cy="338.0" r="1.6" fill="#ee0a0a"/>
<circle cx="61.8" cy="325.8" r="1.6" fill="#ee0a0a"/>
<circle cx="63.1" cy="338.7" r="1.6" fill="#ee0a0a"/>
<circle cx="60.1" cy="337.8" r="1.6" fill="#ee0a0a"/>
<circle cx="65.0" cy="341.2" r="1.6" fill="#ee0a0a"/>
<circle cx="60.0" cy="325.4" r="1.6" fill="#ee0a0a"/>
<circle cx="63.7" cy="343.0" r="1.6" fill="#ee0a0a"/>
<circle cx="61.7" cy="343.2" r="1.6" fill="#ee0a0a"/>
<circle cx="63.2" cy="324.5" r="1.6" fill="#ee0a0a"/>
<circle cx="61.6" cy="320.4" r="1.6" fill="#ee0a0a"/>
<circle cx="59.9" cy="319.5" r="1.6" fill="#ee0a0a"/>
<circle cx="60.5" cy="316.5" r="1.6" fill="#ee0a0a"/>
<circle cx="62.2" cy="322.2" r="1.6" fill="#ee0a0a"/>
<circle cx="63.6" cy="340.2" r="1.6" fill="#ee0a0a"/>
<circle cx="62.6" cy="327.9" r="1.6" fill="#ee0a0a"/>
<circle cx="59.5" cy="330.1" r="1.6" fill="#ee0a0a"/>
<circle cx="63.8" cy="339.0" r="1.6" fill="#ee0a0a"/>
<circle cx="60.1" cy="328.3" r="1.6" fill="#ee0a0a"/>
<circle cx="60.4" cy="340.8" r="1.6" fill="#ee0a0a"/>
<circle cx="61.4" cy="328.8" r="1.6" fill="#ee0a0a"/>
<circle cx="62.8" cy="337.2" r="1.6" fill="#ee0a0a"/>
<circle cx="62.7" cy="323.9" r="1.6" fill="#ee0a0a"/>
<circle cx="62.2" cy="319.5" r="1.6" fill="#ee0a0a"/>
<circle cx="62.0" cy="345.1" r="1.6" fill="#ee0a0a"/>
<circle cx="62.9" cy="325.3" r="1.6" fill="#ee0a0a"/>
<circle cx="59.9" cy="323.3" r="1.6" fill="#ee0a0a"/>
<circle cx="64.9" cy="341.5" r="1.6" fill="#ee0a0a"/>
<circle cx="61.9" cy="339.0" r="1.6" fill="#ee0a0a"/>
<circle cx="64.9" cy="336.2" r="1.6" fill="#ee0a0a"/>
<circle cx="64.1" cy="338.2" r="1.6" fill="#ee0a0a"/>
<circle cx="61.9" cy="336.5" r="1.6" fill="#ee0a0a"/>
<circle cx="61.3" cy="329.8" r="1.6" fill="#ee0a0a"/>
<circle cx="64.8" cy="336.1" r="1.6" fill="#ee0a0a"/>
<circle cx="61.4" cy="343.8" r="1.6" fill="#ee0a0a"/>
<circle cx="64.0" cy="332.7" r="1.6" fill="#ee0a0a"/>
<circle cx="59.4" cy="331.7" r="1.6" fill="#ee0a0a"/>
<circle cx="61.1" cy="335.5" r="1.6" fill="#ee0a0a"/>
<circle cx="62.6" cy="339.9" r="1.6" fill="#ee0a0a"/>
<circle cx="64.0" cy="339.3" r="1.6" fill="#ee0a0a"/>
<circle cx="62.7" cy="319.3" r="1.6" fill="#ee0a0a"/>
<circle cx="65.6" cy="330.7" r="1.6" fill="#ee0a0a"/>
<circle cx="65.6" cy="339.8" r="1.6" fill="#ee0a0a"/>
<circle cx="62.2" cy="317.4" r="1.6" fill="#ee0a0a"/>
<circle cx="65.7" cy="335.9" r="1.6" fill="#ee0a0a"/>
<circle cx="64.5" cy="325.6" r="1.6" fill="#ee0a0a"/>
<circle cx="64.5" cy="327.0" r="1.6" fill="#ee0a0a"/>
<circle cx="63.6" cy="319.1" r="1.6" fill="#ee0a0a"/>
<circle cx="63.2" cy="322.4" r="1.6" fill="#ee0a0a"/>
<circle cx="66.2" cy="334.6" r="1.6" fill="#ee0a0a"/>
<circle cx="62.0" cy="310.6" r="1.6" fill="#ee0a0a"/>
<circle cx="66.0" cy="345.0" r="1.6" fill="#ee0a0a"/>
<circle cx="66.5" cy="335.0" r="1.6" fill="#ee0a0a"/>
<circle cx="65.0" cy="328.0" r="1.6" fill="#ee0a0a"/>
<polygon points="331.5,298.9 333.4,299.4 334.8,302.9 335.6,308.8 335.5,319.6 335.7,331.1 334.4,336.6 330.1,336.6 328.7,332.1 327.4,325.2 326.8,319.7 328.0,312.7 329.2,305.9" fill="#0a0ae6"/>
<circle cx="334.2" cy="330.5" r="1.6" fill="#0a0ae6"/>
<circle cx="331.0" cy="308.3" r="1.6" fill="#0a0ae6"/>
<circle cx="330.8" cy="328.0" r="1.6" fill="#0a0ae6"/>
<circle cx="329.8" cy="328.4" r="1.6" fill="#0a0ae6"/>
<circle cx="328.8" cy="329.7" r="1.6" fill="#0a0ae6"/>
<circle cx="333.5" cy="314.4" r="1.6" fill="#0a0ae6"/>
<circle cx="331.5" cy="324.9" r="1.6" fill="#0a0ae6"/>
<circle cx="328.0" cy="319.9" r="1.6" fill="#0a0ae6"/>
<circle cx="334.3" cy="308.5" r="1.6" fill="#0a0ae6"/>
<circle cx="334.3" cy="325.1" r="1.6" fill="#0a0ae6"/>
<circle cx="334.7" cy="311.3" r="1.6" fill="#0a0ae6"/>
<circle cx="334.3" cy="315.6" r="1.6" fill="#0a0ae6"/>
<circle cx="332.5" cy="309.5" r="1.6" fill="#0a0ae6"/>
<circle cx="335.8" cy="321.2" r="1.6" fill="#0a0ae6"/>
<circle cx="328.1" cy="323.9" r="1.6" fill="#0a0ae6"/>
<circle cx="329.7" cy="334.8" r="1.6" fill="#0a0ae6"/>
<circle cx="335.4" cy="318.3" r="1.6" fill="#0a0ae6"/>
<circle cx="332.6" cy="325.6" r="1.6" fill="#0a0ae6"/>
<circle cx="334.3" cy="336.6" r="1.6" fill="#0a0ae6"/>
<circle cx="332.2" cy="310.0" r="1.6" fill="#0a0ae6"/>
<circle cx="332.1" cy="301.5" r="1.6" fill="#0a0ae6"/>
<circle cx="335.1" cy="318.7" r="1.6" fill="#0a0ae6"/>
<circle cx="327.2" cy="324.2" r="1.6" fill="#0a0ae6"/>
<circle cx="329.2" cy="305.8" r="1.6" fill="#0a0ae6"/>
<circle cx="331.0" cy="303.5" r="1.6" fill="#0a0ae6"/>
<circle cx="333.2" cy="298.5" r="1.6" fill="#0a0ae6"/>
<circle cx="329.4" cy="333.7" r="1.6" fill="#0a0ae6"/>
<circle cx="332.4" cy="310.1" r="1.6" fill="#0a0ae6"/>
<circle cx="329.9" cy="313.4" r="1.6" fill="#0a0ae6"/>
<circle cx="333.7" cy="313.7" r="1.6" fill="#0a0ae6"/>
<circle cx="332.9" cy="333.1" r="1.6" fill="#0a0ae6"/>
<circle cx="330.6" cy="330.8" r="1.6" fill="#0a0ae6"/>
<circle cx="334.2" cy="318.4" r="1.6" fill="#0a0ae6"/>
<circle cx="330.9" cy="325.9" r="1.6" fill="#0a0ae6"/>
<circle cx="333.7" cy="308.5" r="1.6" fill="#0a0ae6"/>
<circle cx="331.0" cy="329.0" r="1.6" fill="#0a0ae6"/>
<circle cx="327.3" cy="321.3" r="1.6" fill="#0a0ae6"/>
<circle cx="329.7" cy="308.1" r="1.6" fill="#0a0ae6"/>
<circle cx="330.7" cy="334.6" r="1.6" fill="#0a0ae6"/>
<circle cx="328.6" cy="314.2" r="1.6" fill="#0a0ae6"/>
<circle cx="335.1" cy="322.2" r="1.6" fill="#0a0ae6"/>
<circle cx="328.8" cy="316.8" r="1.6" fill="#0a0ae6"/>
<circle cx="330.9" cy="303.6" r="1.6" fill="#0a0ae6"/>
<circle cx="329.9" cy="310.1" r="1.6" fill="#0a0ae6"/>
<circle cx="334.3" cy="310.8" r="1.6" fill="#0a0ae6"/>
<circle cx="332.8" cy="336.3" r="1.6" fill="#0a0ae6"/>
<circle cx="335.5" cy="312.9" r="1.6" fill="#0a0ae6"/>
<circle cx="332.2" cy="310.6" r="1.6" fill="#0a0ae6"/>
<circle cx="330.1" cy="317.3" r="1.6" fill="#0a0ae6"/>
<circle cx="334.2" cy="335.0" r="1.6" fill="#0a0ae6"/>
<circle cx="327.2" cy="326.4" r="1.6" fill="#0a0ae6"/>
<circle cx="329.7" cy="335.1" r="1.6" fill="#0a0ae6"/>
<circle cx="332.3" cy="314.7" r="1.6" fill="#0a0ae6"/>
<circle cx="334.1" cy="330.1" r="1.6" fill="#0a0ae6"/>
<circle cx="331.1" cy="316.5" r="1.6" fill="#0a0ae6"/>
<circle cx="327.5" cy="322.7" r="1.6" fill="#0a0ae6"/>
<circle cx="332.2" cy="303.7" r="1.6" fill="#0a0ae6"/>
<circle cx="332.5" cy="301.8" r="1.6" fill="#0a0ae6"/>
<circle cx="327.1" cy="323.5" r="1.6" fill="#0a0ae6"/>
<circle cx="330.8" cy="333.5" r="1.6" fill="#0a0ae6"/>
<circle cx="332.5" cy="325.7" r="1.6" fill="#0a0ae6"/>
<circle cx="326.9" cy="322.4" r="1.6" fill="#0a0ae6"/>
<circle cx="335.4" cy="333.9" r="1.6" fill="#0a0ae6"/>
<circle cx="335.2" cy="315.9" r="1.6" fill="#0a0ae6"/>
<circle cx="333.1" cy="329.3" r="1.6" fill="#0a0ae6"/>
<circle cx="335.4" cy="315.4" r="1.6" fill="#0a0ae6"/>
<circle cx="334.0" cy="315.7" r="1.6" fill="#0a0ae6"/>
<circle cx="328.8" cy="326.1" r="1.6" fill="#0a0ae6"/>
<circle cx="334.8" cy="309.1" r="1.6" fill="#0a0ae6"/>
<circle cx="336.0" cy="315.0" r="1.6" fill="#0a0ae6"/>
<circle cx="332.6" cy="319.2" r="1.6" fill="#0a0ae6"/>
<circle cx="335.8" cy="325.7" r="1.6" fill="#0a0ae6"/>
<circle cx="333.5" cy="302.5" r="1.6" fill="#0a0ae6"/>
<circle cx="331.6" cy="316.3" r="1.6" fill="#0a0ae6"/>
<circle cx="331.1" cy="301.0" r="1.6" fill="#0a0ae6"/>
<circle cx="326.8" cy="318.6" r="1.6" fill="#0a0ae6"/>
<circle cx="326.3" cy="318.8" r="1.6" fill="#0a0ae6"/>
<circle cx="327.6" cy="320.5" r="1.6" fill="#0a0ae6"/>
<circle cx="330.0" cy="306.8" r="1.6" fill="#0a0ae6"/>
<circle cx="328.3" cy="320.3" r="1.6" fill="#0a0ae6"/>
<circle cx="335.4" cy="314.6" r="1.6" fill="#0a0ae6"/>
<circle cx="328.5" cy="320.6" r="1.6" fill="#0a0ae6"/>
<circle cx="334.1" cy="320.5" r="1.6" fill="#0a0ae6"/>
<circle cx="327.9" cy="310.8" r="1.6" fill="#0a0ae6"/>
<circle cx="329.9" cy="315.4" r="1.6" fill="#0a0ae6"/>
<circle cx="330.1" cy="337.4" r="1.6" fill="#0a0ae6"/>
<circle cx="331.7" cy="324.2" r="1.6" fill="#0a0ae6"/>
<circle cx="333.4" cy="323.5" r="1.6" fill="#0a0ae6"/>
<circle cx="334.3" cy="312.7" r="1.6" fill="#0a0ae6"/>
<circle cx="332.9" cy="336.4" r="1.6" fill="#0a0ae6"/>
<circle cx="327.7" cy="322.7" r="1.6" fill="#0a0ae6"/>
<circle cx="327.2" cy="326.1" r="1.6" fill="#0a0ae6"/>
<circle cx="326.3" cy="319.4" r="1.6" fill="#0a0ae6"/>
<circle cx="334.1" cy="306.9" r="1.6" fill="#0a0ae6"/>
<circle cx="331.8" cy="334.4" r="1.6" fill="#0a0ae6"/>
<circle cx="329.0" cy="316.6" r="1.6" fill="#0a0ae6"/>
<circle cx="333.5" cy="332.1" r="1.6" fill="#0a0ae6"/>
<circle cx="327.7" cy="324.1" r="1.6" fill="#0a0ae6"/>
<circle cx="335.5" cy="327.6" r="1.6" fill="#0a0ae6"/>
<circle cx="333.0" cy="326.8" r="1.6" fill="#0a0ae6"/>
<circle cx="332.7" cy="309.3" r="1.6" fill="#0a0ae6"/>
<circle cx="330.6" cy="306.0" r="1.6" fill="#0a0ae6"/>
<circle cx="334.9" cy="328.8" r="1.6" fill="#0a0ae6"/>
<circle cx="334.1" cy="306.5" r="1.6" fill="#0a0ae6"/>
<circle cx="332.1" cy="308.1" r="1.6" fill="#0a0ae6"/>
<circle cx="334.1" cy="327.4" r="1.6" fill="#0a0ae6"/>
<circle cx="333.0" cy="328.7" r="1.6" fill="#0a0ae6"/>
<circle cx="327.0" cy="321.5" r="1.6" fill="#0a0ae6"/>
<circle cx="335.8" cy="315.2" r="1.6" fill="#0a0ae6"/>
<circle cx="334.5" cy="301.5" r="1.6" fill="#0a0ae6"/>
<circle cx="332.1" cy="308.8" r="1.6" fill="#0a0ae6"/>
<circle cx="327.4" cy="314.6" r="1.6" fill="#0a0ae6"/>
<circle cx="330.0" cy="321.5" r="1.6" fill="#0a0ae6"/>
<circle cx="331.8" cy="322.8" r="1.6" fill="#0a0ae6"/>
<circle cx="330.9" cy="308.7" r="1.6" fill="#0a0ae6"/>
<circle cx="328.0" cy="315.7" r="1.6" fill="#0a0ae6"/>
<circle cx="330.2" cy="306.0" r="1.6" fill="#0a0ae6"/>
<circle cx="330.1" cy="337.8" r="1.6" fill="#0a0ae6"/>
<circle cx="328.8" cy="306.5" r="1.6" fill="#0a0ae6"/>
<circle cx="332.5" cy="323.0" r="1.6" fill="#0a0ae6"/>
<circle cx="331.0" cy="336.6" r="1.6" fill="#0a0ae6"/>
<circle cx="330.3" cy="332.8" r="1.6" fill="#0a0ae6"/>
<circle cx="332.1" cy="338.4" r="1.6" fill="#0a0ae6"/>
<circle cx="330.5" cy="337.4" r="1.6" fill="#0a0ae6"/>
<circle cx="329.7" cy="334.4" r="1.6" fill="#0a0ae6"/>
<circle cx="333.0" cy="337.0" r="1.6" fill="#0a0ae6"/>
<circle cx="332.5" cy="295.3" r="1.6" fill="#0a0ae6"/>
<circle cx="333.0" cy="343.3" r="1.6" fill="#0a0ae6"/>
<circle cx="332.8" cy="346.9" r="1.6" fill="#0a0ae6"/>
<circle cx="334.0" cy="352.0" r="1.6" fill="#0a0ae6"/>
<circle cx="324.4" cy="305.2" r="1.6" fill="#0a0ae6"/>
<circle cx="322.6" cy="315.0" r="1.6" fill="#0a0ae6"/>
<circle cx="322.6" cy="321.4" r="1.6" fill="#0a0ae6"/>
<circle cx="323.5" cy="325.9" r="1.6" fill="#0a0ae6"/>
<circle cx="326.0" cy="310.0" r="1.6" fill="#0a0ae6"/>
<circle cx="326.0" cy="330.0" r="1.6" fill="#0a0ae6"/>
<circle cx="327.0" cy="334.0" r="1.6" fill="#0a0ae6"/>
<rect x="329.7" y="315.7" width="4.6" height="4.6" fill="none" stroke="#c8c8ff" stroke-width="0.8"/>
<rect x="59.5" y="329.0" width="4.0" height="4.0" fill="none" stroke="#ffb0b0" stroke-width="0.8"/>
<text x="61.2" y="457.4" class="cnt" text-anchor="middle" fill="#e01a24" textLength="15.9" lengthAdjust="spacingAndGlyphs">169</text>
<text x="225.5" y="457.4" class="cnt" text-anchor="middle" fill="#761a78" textLength="10.6" lengthAdjust="spacingAndGlyphs">47</text>
<text x="332.2" y="457.4" class="cnt" text-anchor="middle" fill="#2020d4" textLength="15.9" lengthAdjust="spacingAndGlyphs">614</text>
<clipPath id="clipD"><rect x="414.2" y="264.5" width="328.8" height="183.3"/></clipPath>
<g clip-path="url(#clipD)">
<rect x="409.2" y="259.5" width="338.8" height="193.3" fill="#f1e3f2"/>
<path d="M524,259.5 L639.3,259.5 L639.3,373.5 Q639.3,389.5 623.3,389.5 L540,389.5 Q524,389.5 524,373.5 Z" fill="#e2cce4" />
<clipPath id="pkD"><polygon points="409.2,259.5 477.6,259.5 478.5,280.0 479.5,298.0 481.5,320.0 483.3,336.0 485.0,355.0 486.0,374.0 487.5,395.0 488.6,412.0 490.5,430.0 491.7,447.8 492.0,452.8 409.2,452.8"/></clipPath>
<polygon points="409.2,259.5 477.6,259.5 478.5,280.0 479.5,298.0 481.5,320.0 483.3,336.0 485.0,355.0 486.0,374.0 487.5,395.0 488.6,412.0 490.5,430.0 491.7,447.8 492.0,452.8 409.2,452.8" fill="#fde4e4" />
<g clip-path="url(#pkD)"><path d="M409.2,259.5 L463.2,259.5 L463.2,381 Q463.2,391 453.2,391 L409.2,391 Q409.2,391 409.2,391 Z" fill="#ffcccc" /></g>
<clipPath id="blD"><polygon points="636.0,259.5 748.0,259.5 748.0,452.8 688.0,452.8 687.0,446.0 682.0,436.0 675.0,430.0 670.0,420.0 666.0,410.0 660.0,390.0 655.0,370.0 650.0,350.0 648.0,317.0 645.0,298.0 641.8,279.0"/></clipPath>
<polygon points="636.0,259.5 748.0,259.5 748.0,452.8 688.0,452.8 687.0,446.0 682.0,436.0 675.0,430.0 670.0,420.0 666.0,410.0 660.0,390.0 655.0,370.0 650.0,350.0 648.0,317.0 645.0,298.0 641.8,279.0" fill="#e6e6fc" />
<g clip-path="url(#blD)"><path d="M658.5,259.5 L748,259.5 L748,391.2 Q748,391.2 748,391.2 L674.5,391.2 Q658.5,391.2 658.5,375.2 Z" fill="#cdcdfc" /></g>
<polyline points="477.6,259.5 478.5,280.0 479.5,298.0 481.5,320.0 483.3,336.0 485.0,355.0 486.0,374.0 487.5,395.0 488.6,412.0 490.5,430.0 491.7,447.8" fill="none" stroke="#fff" stroke-width="1.1" stroke-linejoin="round" />
<polyline points="687.0,446.0 682.0,436.0 675.0,430.0 670.0,420.0 666.0,410.0 660.0,390.0 655.0,370.0 650.0,350.0 648.0,317.0 645.0,298.0 641.8,279.0 636.0,259.5" fill="none" stroke="#fff" stroke-width="1.1" stroke-linejoin="round" />
</g>
<path d="M414.2,429.1H743 M414.2,410.4H743 M414.2,391.6H743 M414.2,372.9H743 M414.2,354.2H743 M414.2,335.5H743 M414.2,316.8H743 M414.2,298.0H743 M414.2,279.3H743 M495.8,264.5V447.8 M550.5,264.5V447.8 M605.1,264.5V447.8 M659.8,264.5V447.8 M714.5,264.5V447.8" stroke="#dcd6dc" stroke-width="1" fill="none" opacity="0.75"/>
<path d="M414.2,466.5H743 M495.8,447.8V478.4 M550.5,447.8V478.4 M605.1,447.8V478.4 M659.8,447.8V478.4 M714.5,447.8V478.4" stroke="#e0e0e0" stroke-width="1" fill="none"/>
<rect x="414.2" y="264.5" width="328.8" height="213.89999999999998" fill="none" stroke="#6e686a" stroke-width="1.4"/>
<path d="M414.2,447.8H743" stroke="#6e6468" stroke-width="1.6"/>
<path d="M441.1,264.5V478.4" stroke="#6e6468" stroke-width="1.6"/>
<path d="M414.2,466.5H416.7 M414.2,447.8H416.7 M414.2,429.1H416.7 M414.2,410.4H416.7 M414.2,391.6H416.7 M414.2,372.9H416.7 M414.2,354.2H416.7 M414.2,335.5H416.7 M414.2,316.8H416.7 M414.2,298.0H416.7 M414.2,279.3H416.7 M441.1,475.9V478.4 M495.8,475.9V478.4 M550.5,475.9V478.4 M605.1,475.9V478.4 M659.8,475.9V478.4 M714.5,475.9V478.4" stroke="#333" stroke-width="0.9"/>
<text x="411.8" y="468.8" class="tl" text-anchor="end">-0.20</text>
<text x="411.8" y="450.1" class="tl" text-anchor="end">0</text>
<text x="411.8" y="431.4" class="tl" text-anchor="end">0.20</text>
<text x="411.8" y="412.7" class="tl" text-anchor="end">0.40</text>
<text x="411.8" y="393.9" class="tl" text-anchor="end">0.60</text>
<text x="411.8" y="375.2" class="tl" text-anchor="end">0.80</text>
<text x="411.8" y="356.5" class="tl" text-anchor="end">1</text>
<text x="411.8" y="337.8" class="tl" text-anchor="end">1.20</text>
<text x="411.8" y="319.1" class="tl" text-anchor="end">1.40</text>
<text x="411.8" y="300.3" class="tl" text-anchor="end">1.60</text>
<text x="411.8" y="281.6" class="tl" text-anchor="end">1.80</text>
<text x="441.1" y="487.3" class="tl" text-anchor="middle">0</text>
<text x="495.8" y="487.3" class="tl" text-anchor="middle">0.20</text>
<text x="550.5" y="487.3" class="tl" text-anchor="middle">0.40</text>
<text x="605.1" y="487.3" class="tl" text-anchor="middle">0.60</text>
<text x="659.8" y="487.3" class="tl" text-anchor="middle">0.80</text>
<text x="714.5" y="487.3" class="tl" text-anchor="middle">1</text>
<text x="390" y="372" class="at" text-anchor="middle" transform="rotate(-90 390 372)" dy="2.6">Norm R</text>
<text x="577.4" y="498.6" class="at" text-anchor="middle">Norm Theta</text>
<text x="398.59999999999997" y="263" class="let">D</text>
<ellipse cx="582.5" cy="333.7" rx="24.399999999999977" ry="23.69999999999999" fill="none" stroke="#8a3a96" stroke-width="0.9"/>
<ellipse cx="441.79999999999995" cy="335.0" rx="9.599999999999994" ry="23.399999999999977" fill="none" stroke="#e04848" stroke-width="0.7"/>
<ellipse cx="713.1500000000001" cy="323.45000000000005" rx="22.94999999999999" ry="28.150000000000006" fill="none" stroke="#3a3ad0" stroke-width="0.7"/>
<circle cx="530.5" cy="327.7" r="1.55" fill="#620a72"/>
<circle cx="530.5" cy="338.6" r="1.55" fill="#620a72"/>
<circle cx="573.1" cy="330.1" r="1.55" fill="#620a72"/>
<circle cx="587.9" cy="318.8" r="1.55" fill="#620a72"/>
<circle cx="582.4" cy="323.0" r="1.55" fill="#620a72"/>
<circle cx="584.7" cy="322.2" r="1.55" fill="#620a72"/>
<circle cx="591.1" cy="323.8" r="1.55" fill="#620a72"/>
<circle cx="594.3" cy="322.0" r="1.55" fill="#620a72"/>
<circle cx="586.8" cy="325.3" r="1.55" fill="#620a72"/>
<circle cx="588.4" cy="327.0" r="1.55" fill="#620a72"/>
<circle cx="590.0" cy="328.6" r="1.55" fill="#620a72"/>
<circle cx="589.2" cy="329.4" r="1.55" fill="#620a72"/>
<circle cx="590.8" cy="329.0" r="1.55" fill="#620a72"/>
<circle cx="583.0" cy="330.6" r="1.55" fill="#620a72"/>
<circle cx="584.3" cy="331.4" r="1.55" fill="#620a72"/>
<circle cx="585.1" cy="333.0" r="1.55" fill="#620a72"/>
<circle cx="583.5" cy="333.8" r="1.55" fill="#620a72"/>
<circle cx="582.7" cy="335.4" r="1.55" fill="#620a72"/>
<circle cx="581.1" cy="338.6" r="1.55" fill="#620a72"/>
<circle cx="582.7" cy="337.8" r="1.55" fill="#620a72"/>
<circle cx="590.3" cy="335.7" r="1.55" fill="#620a72"/>
<circle cx="588.8" cy="339.4" r="1.55" fill="#620a72"/>
<circle cx="592.1" cy="341.5" r="1.55" fill="#620a72"/>
<circle cx="598.8" cy="336.7" r="1.55" fill="#620a72"/>
<circle cx="609.6" cy="339.4" r="1.55" fill="#620a72"/>
<circle cx="621.0" cy="331.0" r="1.55" fill="#620a72"/>
<circle cx="627.4" cy="319.6" r="1.55" fill="#620a72"/>
<circle cx="631.5" cy="329.4" r="1.55" fill="#620a72"/>
<circle cx="627.3" cy="337.5" r="1.55" fill="#620a72"/>
<circle cx="489.8" cy="335.2" r="1.5" fill="#111111"/>
<circle cx="495.5" cy="340.9" r="1.5" fill="#111111"/>
<circle cx="697.0" cy="412.6" r="1.5" fill="#111111"/>
<polygon points="441.6,319.9 443.0,320.4 443.9,323.9 444.1,330.8 445.1,333.9 446.1,339.2 446.2,345.1 443.9,347.6 441.1,347.6 440.2,343.1 440.8,334.6 440.3,326.8 440.7,322.9" fill="#ee0a0a"/>
<circle cx="442.1" cy="323.5" r="1.6" fill="#ee0a0a"/>
<circle cx="443.5" cy="329.8" r="1.6" fill="#ee0a0a"/>
<circle cx="440.4" cy="334.0" r="1.6" fill="#ee0a0a"/>
<circle cx="440.2" cy="331.8" r="1.6" fill="#ee0a0a"/>
<circle cx="442.8" cy="343.4" r="1.6" fill="#ee0a0a"/>
<circle cx="440.8" cy="325.6" r="1.6" fill="#ee0a0a"/>
<circle cx="444.1" cy="347.0" r="1.6" fill="#ee0a0a"/>
<circle cx="443.8" cy="330.7" r="1.6" fill="#ee0a0a"/>
<circle cx="440.9" cy="322.5" r="1.6" fill="#ee0a0a"/>
<circle cx="442.0" cy="343.1" r="1.6" fill="#ee0a0a"/>
<circle cx="441.2" cy="336.2" r="1.6" fill="#ee0a0a"/>
<circle cx="444.2" cy="330.0" r="1.6" fill="#ee0a0a"/>
<circle cx="440.4" cy="325.1" r="1.6" fill="#ee0a0a"/>
<circle cx="444.4" cy="331.6" r="1.6" fill="#ee0a0a"/>
<circle cx="442.0" cy="336.3" r="1.6" fill="#ee0a0a"/>
<circle cx="442.9" cy="327.8" r="1.6" fill="#ee0a0a"/>
<circle cx="445.2" cy="339.6" r="1.6" fill="#ee0a0a"/>
<circle cx="441.6" cy="335.9" r="1.6" fill="#ee0a0a"/>
<circle cx="443.4" cy="344.8" r="1.6" fill="#ee0a0a"/>
<circle cx="442.7" cy="341.3" r="1.6" fill="#ee0a0a"/>
<circle cx="441.0" cy="333.4" r="1.6" fill="#ee0a0a"/>
<circle cx="440.3" cy="338.7" r="1.6" fill="#ee0a0a"/>
<circle cx="445.0" cy="335.9" r="1.6" fill="#ee0a0a"/>
<circle cx="444.5" cy="336.5" r="1.6" fill="#ee0a0a"/>
<circle cx="443.8" cy="332.5" r="1.6" fill="#ee0a0a"/>
<circle cx="445.5" cy="346.9" r="1.6" fill="#ee0a0a"/>
<circle cx="443.1" cy="338.6" r="1.6" fill="#ee0a0a"/>
<circle cx="440.4" cy="339.7" r="1.6" fill="#ee0a0a"/>
<circle cx="442.5" cy="338.7" r="1.6" fill="#ee0a0a"/>
<circle cx="440.1" cy="332.6" r="1.6" fill="#ee0a0a"/>
<circle cx="441.1" cy="322.5" r="1.6" fill="#ee0a0a"/>
<circle cx="440.4" cy="341.7" r="1.6" fill="#ee0a0a"/>
<circle cx="440.8" cy="326.3" r="1.6" fill="#ee0a0a"/>
<circle cx="442.5" cy="344.7" r="1.6" fill="#ee0a0a"/>
<circle cx="440.5" cy="332.3" r="1.6" fill="#ee0a0a"/>
<circle cx="443.6" cy="345.1" r="1.6" fill="#ee0a0a"/>
<circle cx="445.3" cy="344.5" r="1.6" fill="#ee0a0a"/>
<circle cx="441.8" cy="331.3" r="1.6" fill="#ee0a0a"/>
<circle cx="442.3" cy="345.1" r="1.6" fill="#ee0a0a"/>
<circle cx="441.1" cy="325.8" r="1.6" fill="#ee0a0a"/>
<circle cx="441.5" cy="333.3" r="1.6" fill="#ee0a0a"/>
<circle cx="443.8" cy="326.8" r="1.6" fill="#ee0a0a"/>
<circle cx="440.0" cy="331.4" r="1.6" fill="#ee0a0a"/>
<circle cx="442.4" cy="335.7" r="1.6" fill="#ee0a0a"/>
<circle cx="446.2" cy="339.4" r="1.6" fill="#ee0a0a"/>
<circle cx="443.4" cy="337.2" r="1.6" fill="#ee0a0a"/>
<circle cx="445.8" cy="342.0" r="1.6" fill="#ee0a0a"/>
<circle cx="445.7" cy="342.5" r="1.6" fill="#ee0a0a"/>
<circle cx="442.6" cy="330.8" r="1.6" fill="#ee0a0a"/>
<circle cx="440.7" cy="337.7" r="1.6" fill="#ee0a0a"/>
<circle cx="441.4" cy="323.8" r="1.6" fill="#ee0a0a"/>
<circle cx="442.2" cy="320.6" r="1.6" fill="#ee0a0a"/>
<circle cx="440.7" cy="329.7" r="1.6" fill="#ee0a0a"/>
<circle cx="444.0" cy="323.4" r="1.6" fill="#ee0a0a"/>
<circle cx="441.6" cy="329.2" r="1.6" fill="#ee0a0a"/>
<circle cx="442.4" cy="322.6" r="1.6" fill="#ee0a0a"/>
<circle cx="443.2" cy="321.9" r="1.6" fill="#ee0a0a"/>
<circle cx="444.8" cy="326.6" r="1.6" fill="#ee0a0a"/>
<circle cx="444.2" cy="320.7" r="1.6" fill="#ee0a0a"/>
<circle cx="446.5" cy="337.5" r="1.6" fill="#ee0a0a"/>
<circle cx="446.6" cy="337.3" r="1.6" fill="#ee0a0a"/>
<circle cx="445.5" cy="331.3" r="1.6" fill="#ee0a0a"/>
<circle cx="444.1" cy="323.9" r="1.6" fill="#ee0a0a"/>
<circle cx="444.0" cy="321.2" r="1.6" fill="#ee0a0a"/>
<circle cx="445.9" cy="331.8" r="1.6" fill="#ee0a0a"/>
<circle cx="443.2" cy="322.5" r="1.6" fill="#ee0a0a"/>
<circle cx="443.0" cy="314.4" r="1.6" fill="#ee0a0a"/>
<circle cx="447.2" cy="334.4" r="1.6" fill="#ee0a0a"/>
<circle cx="447.2" cy="344.0" r="1.6" fill="#ee0a0a"/>
<circle cx="447.2" cy="347.6" r="1.6" fill="#ee0a0a"/>
<circle cx="455.3" cy="334.4" r="1.6" fill="#ee0a0a"/>
<polygon points="711.9,300.9 713.8,301.9 715.7,306.8 715.4,320.1 715.7,337.1 712.9,340.1 709.1,340.1 708.1,335.1 707.3,329.2 706.1,325.3 705.9,320.1 707.0,315.7 708.7,311.9 710.5,304.9" fill="#0a0ae6"/>
<circle cx="712.3" cy="318.8" r="1.6" fill="#0a0ae6"/>
<circle cx="710.1" cy="320.3" r="1.6" fill="#0a0ae6"/>
<circle cx="709.6" cy="337.0" r="1.6" fill="#0a0ae6"/>
<circle cx="705.7" cy="325.4" r="1.6" fill="#0a0ae6"/>
<circle cx="709.3" cy="327.1" r="1.6" fill="#0a0ae6"/>
<circle cx="708.8" cy="328.3" r="1.6" fill="#0a0ae6"/>
<circle cx="710.6" cy="326.6" r="1.6" fill="#0a0ae6"/>
<circle cx="715.2" cy="323.8" r="1.6" fill="#0a0ae6"/>
<circle cx="715.7" cy="320.0" r="1.6" fill="#0a0ae6"/>
<circle cx="711.5" cy="329.9" r="1.6" fill="#0a0ae6"/>
<circle cx="715.0" cy="311.7" r="1.6" fill="#0a0ae6"/>
<circle cx="709.0" cy="336.0" r="1.6" fill="#0a0ae6"/>
<circle cx="712.9" cy="338.9" r="1.6" fill="#0a0ae6"/>
<circle cx="714.5" cy="320.6" r="1.6" fill="#0a0ae6"/>
<circle cx="711.0" cy="320.9" r="1.6" fill="#0a0ae6"/>
<circle cx="710.7" cy="328.8" r="1.6" fill="#0a0ae6"/>
<circle cx="708.0" cy="317.4" r="1.6" fill="#0a0ae6"/>
<circle cx="709.3" cy="334.2" r="1.6" fill="#0a0ae6"/>
<circle cx="715.1" cy="307.2" r="1.6" fill="#0a0ae6"/>
<circle cx="712.5" cy="340.0" r="1.6" fill="#0a0ae6"/>
<circle cx="707.3" cy="331.4" r="1.6" fill="#0a0ae6"/>
<circle cx="713.6" cy="314.0" r="1.6" fill="#0a0ae6"/>
<circle cx="706.9" cy="317.9" r="1.6" fill="#0a0ae6"/>
<circle cx="707.6" cy="316.8" r="1.6" fill="#0a0ae6"/>
<circle cx="710.0" cy="317.1" r="1.6" fill="#0a0ae6"/>
<circle cx="711.7" cy="311.8" r="1.6" fill="#0a0ae6"/>
<circle cx="706.2" cy="321.4" r="1.6" fill="#0a0ae6"/>
<circle cx="709.1" cy="333.1" r="1.6" fill="#0a0ae6"/>
<circle cx="710.7" cy="329.0" r="1.6" fill="#0a0ae6"/>
<circle cx="709.4" cy="323.5" r="1.6" fill="#0a0ae6"/>
<circle cx="713.4" cy="314.4" r="1.6" fill="#0a0ae6"/>
<circle cx="714.4" cy="308.6" r="1.6" fill="#0a0ae6"/>
<circle cx="715.9" cy="331.1" r="1.6" fill="#0a0ae6"/>
<circle cx="716.2" cy="323.8" r="1.6" fill="#0a0ae6"/>
<circle cx="711.8" cy="320.4" r="1.6" fill="#0a0ae6"/>
<circle cx="710.3" cy="306.3" r="1.6" fill="#0a0ae6"/>
<circle cx="706.4" cy="323.8" r="1.6" fill="#0a0ae6"/>
<circle cx="710.0" cy="329.7" r="1.6" fill="#0a0ae6"/>
<circle cx="713.1" cy="319.3" r="1.6" fill="#0a0ae6"/>
<circle cx="709.4" cy="314.8" r="1.6" fill="#0a0ae6"/>
<circle cx="713.2" cy="329.0" r="1.6" fill="#0a0ae6"/>
<circle cx="711.9" cy="300.9" r="1.6" fill="#0a0ae6"/>
<circle cx="709.1" cy="317.7" r="1.6" fill="#0a0ae6"/>
<circle cx="713.5" cy="320.6" r="1.6" fill="#0a0ae6"/>
<circle cx="713.0" cy="308.2" r="1.6" fill="#0a0ae6"/>
<circle cx="707.6" cy="321.6" r="1.6" fill="#0a0ae6"/>
<circle cx="713.4" cy="326.5" r="1.6" fill="#0a0ae6"/>
<circle cx="715.3" cy="330.5" r="1.6" fill="#0a0ae6"/>
<circle cx="711.2" cy="340.0" r="1.6" fill="#0a0ae6"/>
<circle cx="709.2" cy="338.6" r="1.6" fill="#0a0ae6"/>
<circle cx="714.6" cy="321.2" r="1.6" fill="#0a0ae6"/>
<circle cx="712.1" cy="339.2" r="1.6" fill="#0a0ae6"/>
<circle cx="713.9" cy="312.1" r="1.6" fill="#0a0ae6"/>
<circle cx="714.6" cy="308.0" r="1.6" fill="#0a0ae6"/>
<circle cx="709.2" cy="339.3" r="1.6" fill="#0a0ae6"/>
<circle cx="714.6" cy="312.8" r="1.6" fill="#0a0ae6"/>
<circle cx="708.3" cy="325.1" r="1.6" fill="#0a0ae6"/>
<circle cx="714.5" cy="328.1" r="1.6" fill="#0a0ae6"/>
<circle cx="715.6" cy="329.8" r="1.6" fill="#0a0ae6"/>
<circle cx="714.3" cy="324.8" r="1.6" fill="#0a0ae6"/>
<circle cx="709.1" cy="317.5" r="1.6" fill="#0a0ae6"/>
<circle cx="710.5" cy="321.7" r="1.6" fill="#0a0ae6"/>
<circle cx="714.5" cy="311.0" r="1.6" fill="#0a0ae6"/>
<circle cx="708.1" cy="317.2" r="1.6" fill="#0a0ae6"/>
<circle cx="708.1" cy="312.0" r="1.6" fill="#0a0ae6"/>
<circle cx="714.1" cy="320.7" r="1.6" fill="#0a0ae6"/>
<circle cx="708.1" cy="336.4" r="1.6" fill="#0a0ae6"/>
<circle cx="709.7" cy="314.8" r="1.6" fill="#0a0ae6"/>
<circle cx="715.9" cy="332.4" r="1.6" fill="#0a0ae6"/>
<circle cx="713.4" cy="310.2" r="1.6" fill="#0a0ae6"/>
<circle cx="714.2" cy="324.5" r="1.6" fill="#0a0ae6"/>
<circle cx="714.4" cy="315.1" r="1.6" fill="#0a0ae6"/>
<circle cx="713.8" cy="332.5" r="1.6" fill="#0a0ae6"/>
<circle cx="709.4" cy="326.8" r="1.6" fill="#0a0ae6"/>
<circle cx="715.4" cy="332.2" r="1.6" fill="#0a0ae6"/>
<circle cx="706.5" cy="325.0" r="1.6" fill="#0a0ae6"/>
<circle cx="712.7" cy="303.6" r="1.6" fill="#0a0ae6"/>
<circle cx="710.2" cy="335.6" r="1.6" fill="#0a0ae6"/>
<circle cx="715.2" cy="337.9" r="1.6" fill="#0a0ae6"/>
<circle cx="706.0" cy="324.9" r="1.6" fill="#0a0ae6"/>
<circle cx="714.8" cy="326.8" r="1.6" fill="#0a0ae6"/>
<circle cx="715.4" cy="335.2" r="1.6" fill="#0a0ae6"/>
<circle cx="712.4" cy="315.0" r="1.6" fill="#0a0ae6"/>
<circle cx="714.4" cy="333.4" r="1.6" fill="#0a0ae6"/>
<circle cx="713.2" cy="324.6" r="1.6" fill="#0a0ae6"/>
<circle cx="708.6" cy="312.2" r="1.6" fill="#0a0ae6"/>
<circle cx="709.0" cy="313.4" r="1.6" fill="#0a0ae6"/>
<circle cx="710.9" cy="304.7" r="1.6" fill="#0a0ae6"/>
<circle cx="713.2" cy="314.3" r="1.6" fill="#0a0ae6"/>
<circle cx="709.4" cy="317.7" r="1.6" fill="#0a0ae6"/>
<circle cx="713.8" cy="304.1" r="1.6" fill="#0a0ae6"/>
<circle cx="711.3" cy="330.2" r="1.6" fill="#0a0ae6"/>
<circle cx="714.3" cy="322.9" r="1.6" fill="#0a0ae6"/>
<circle cx="708.7" cy="336.2" r="1.6" fill="#0a0ae6"/>
<circle cx="713.3" cy="319.6" r="1.6" fill="#0a0ae6"/>
<circle cx="711.4" cy="338.4" r="1.6" fill="#0a0ae6"/>
<circle cx="713.6" cy="302.5" r="1.6" fill="#0a0ae6"/>
<circle cx="715.0" cy="324.0" r="1.6" fill="#0a0ae6"/>
<circle cx="711.9" cy="317.0" r="1.6" fill="#0a0ae6"/>
<circle cx="715.6" cy="323.7" r="1.6" fill="#0a0ae6"/>
<circle cx="715.1" cy="337.8" r="1.6" fill="#0a0ae6"/>
<circle cx="712.8" cy="340.3" r="1.6" fill="#0a0ae6"/>
<circle cx="710.5" cy="315.0" r="1.6" fill="#0a0ae6"/>
<circle cx="714.5" cy="321.6" r="1.6" fill="#0a0ae6"/>
<circle cx="708.5" cy="327.9" r="1.6" fill="#0a0ae6"/>
<circle cx="710.4" cy="305.2" r="1.6" fill="#0a0ae6"/>
<circle cx="714.5" cy="320.5" r="1.6" fill="#0a0ae6"/>
<circle cx="716.0" cy="321.9" r="1.6" fill="#0a0ae6"/>
<circle cx="715.6" cy="311.9" r="1.6" fill="#0a0ae6"/>
<circle cx="707.5" cy="321.6" r="1.6" fill="#0a0ae6"/>
<circle cx="713.7" cy="333.8" r="1.6" fill="#0a0ae6"/>
<circle cx="712.3" cy="305.1" r="1.6" fill="#0a0ae6"/>
<circle cx="709.2" cy="338.7" r="1.6" fill="#0a0ae6"/>
<circle cx="708.9" cy="328.7" r="1.6" fill="#0a0ae6"/>
<circle cx="712.0" cy="305.9" r="1.6" fill="#0a0ae6"/>
<circle cx="712.8" cy="303.3" r="1.6" fill="#0a0ae6"/>
<circle cx="707.1" cy="323.8" r="1.6" fill="#0a0ae6"/>
<circle cx="709.8" cy="325.8" r="1.6" fill="#0a0ae6"/>
<circle cx="711.8" cy="326.9" r="1.6" fill="#0a0ae6"/>
<circle cx="716.1" cy="314.7" r="1.6" fill="#0a0ae6"/>
<circle cx="715.7" cy="326.7" r="1.6" fill="#0a0ae6"/>
<circle cx="710.4" cy="307.0" r="1.6" fill="#0a0ae6"/>
<circle cx="707.7" cy="315.0" r="1.6" fill="#0a0ae6"/>
<circle cx="708.9" cy="315.2" r="1.6" fill="#0a0ae6"/>
<circle cx="714.1" cy="315.4" r="1.6" fill="#0a0ae6"/>
<circle cx="712.1" cy="301.6" r="1.6" fill="#0a0ae6"/>
<circle cx="715.1" cy="312.8" r="1.6" fill="#0a0ae6"/>
<circle cx="709.1" cy="315.0" r="1.6" fill="#0a0ae6"/>
<circle cx="709.8" cy="316.1" r="1.6" fill="#0a0ae6"/>
<circle cx="709.7" cy="339.7" r="1.6" fill="#0a0ae6"/>
<circle cx="708.4" cy="340.9" r="1.6" fill="#0a0ae6"/>
<circle cx="707.6" cy="329.2" r="1.6" fill="#0a0ae6"/>
<circle cx="709.1" cy="340.2" r="1.6" fill="#0a0ae6"/>
<circle cx="707.1" cy="331.6" r="1.6" fill="#0a0ae6"/>
<circle cx="707.1" cy="328.1" r="1.6" fill="#0a0ae6"/>
<circle cx="707.2" cy="317.6" r="1.6" fill="#0a0ae6"/>
<circle cx="704.4" cy="324.3" r="1.6" fill="#0a0ae6"/>
<circle cx="705.1" cy="317.2" r="1.6" fill="#0a0ae6"/>
<circle cx="713.3" cy="346.7" r="1.6" fill="#0a0ae6"/>
<circle cx="713.3" cy="350.2" r="1.6" fill="#0a0ae6"/>
<circle cx="714.1" cy="354.7" r="1.6" fill="#0a0ae6"/>
<circle cx="659.8" cy="332.0" r="1.6" fill="#0a0ae6"/>
<circle cx="663.3" cy="334.5" r="1.6" fill="#0a0ae6"/>
<circle cx="665.4" cy="335.1" r="1.6" fill="#0a0ae6"/>
<circle cx="667.5" cy="334.5" r="1.6" fill="#0a0ae6"/>
<circle cx="672.4" cy="330.6" r="1.6" fill="#0a0ae6"/>
<circle cx="675.2" cy="323.6" r="1.6" fill="#0a0ae6"/>
<circle cx="680.1" cy="331.3" r="1.6" fill="#0a0ae6"/>
<circle cx="682.9" cy="333.1" r="1.6" fill="#0a0ae6"/>
<circle cx="681.5" cy="318.7" r="1.6" fill="#0a0ae6"/>
<circle cx="685.0" cy="316.9" r="1.6" fill="#0a0ae6"/>
<circle cx="687.8" cy="318.0" r="1.6" fill="#0a0ae6"/>
<circle cx="695.1" cy="322.5" r="1.6" fill="#0a0ae6"/>
<circle cx="695.1" cy="327.8" r="1.6" fill="#0a0ae6"/>
<circle cx="702.8" cy="318.7" r="1.6" fill="#0a0ae6"/>
<circle cx="705.0" cy="309.6" r="1.6" fill="#0a0ae6"/>
<circle cx="703.2" cy="325.0" r="1.6" fill="#0a0ae6"/>
<circle cx="703.9" cy="327.8" r="1.6" fill="#0a0ae6"/>
<circle cx="705.3" cy="329.2" r="1.6" fill="#0a0ae6"/>
<circle cx="709.9" cy="339.7" r="1.6" fill="#0a0ae6"/>
<circle cx="711.6" cy="303.3" r="1.6" fill="#0a0ae6"/>
<circle cx="695.0" cy="384.4" r="1.6" fill="#0a0ae6"/>
<circle cx="706.0" cy="322.0" r="1.6" fill="#0a0ae6"/>
<circle cx="704.0" cy="332.0" r="1.6" fill="#0a0ae6"/>
<circle cx="712.3" cy="320.1" r="1.3" fill="#ffffff"/>
<text x="442.2" y="457.4" class="cnt" text-anchor="middle" fill="#e01a24" textLength="15.9" lengthAdjust="spacingAndGlyphs">170</text>
<text x="581.9" y="457.4" class="cnt" text-anchor="middle" fill="#761a78" textLength="10.6" lengthAdjust="spacingAndGlyphs">31</text>
<text x="712.9" y="457.4" class="cnt" text-anchor="middle" fill="#2020d4" textLength="15.9" lengthAdjust="spacingAndGlyphs">628</text>
</svg></body></html>
